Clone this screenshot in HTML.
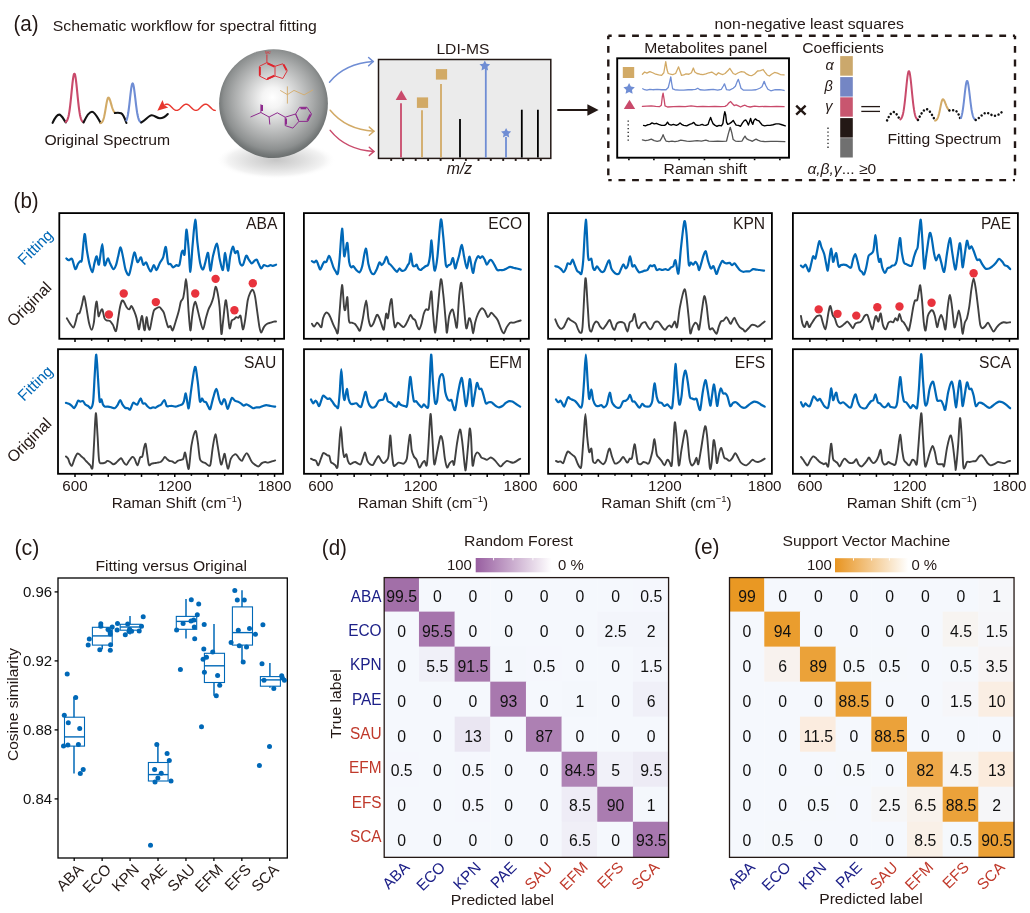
<!DOCTYPE html>
<html><head><meta charset="utf-8"><title>Spectral fitting figure</title>
<style>
html,body{margin:0;padding:0;background:#fff;}
body{width:1030px;height:913px;overflow:hidden;}
svg{display:block;}
svg text{font-family:'Liberation Sans', Arial, sans-serif;}
</style></head><body>
<svg width="1030" height="913" viewBox="0 0 1030 913">
<rect width="1030" height="913" fill="#fff"/>
<text x="13.5" y="30.5" font-size="22.95" fill="#231815" textLength="25.2" lengthAdjust="spacingAndGlyphs">(a)</text>
<text x="52.8" y="30.6" font-size="15.1" fill="#231815" textLength="264.1" lengthAdjust="spacingAndGlyphs">Schematic workflow for spectral fitting</text>
<path d="M52.6,122.9 C55,117.5 57,114.6 59.2,114.6 C61.6,114.6 63.6,119.5 65.8,122.5" fill="none" stroke="#111" stroke-width="2.1" stroke-linecap="round"/>
<path d="M65.8,121.9 L66.24,121.56 L66.69,121.08 L67.13,120.39 L67.57,119.45 L68.01,118.18 L68.45,116.52 L68.9,114.42 L69.34,111.83 L69.78,108.73 L70.22,105.15 L70.67,101.14 L71.11,96.81 L71.55,92.3 L72,87.83 L72.44,83.61 L72.88,79.88 L73.32,76.86 L73.77,74.76 L74.21,73.71 L74.65,73.78 L75.09,74.97 L75.53,77.21 L75.98,80.32 L76.42,84.13 L76.86,88.4 L77.3,92.89 L77.75,97.38 L78.19,101.68 L78.63,105.64 L79.08,109.16 L79.52,112.19 L79.96,114.72 L80.4,116.76 L80.84,118.36 L81.29,119.59 L81.73,120.5 L82.17,121.15 L82.62,121.62 L83.06,121.93 L83.5,122.14" fill="none" stroke="#c94a6b" stroke-width="2.1" stroke-linejoin="round" stroke-linecap="round"/>
<path d="M83.5,122.5 C86.5,116 89.5,111.7 92,111.7 C95,111.7 98,118.5 100.6,122.9" fill="none" stroke="#111" stroke-width="2.1" stroke-linecap="round"/>
<path d="M100.6,123.11 L100.96,122.97 L101.31,122.77 L101.67,122.49 L102.03,122.12 L102.39,121.62 L102.74,120.98 L103.1,120.16 L103.46,119.16 L103.82,117.94 L104.17,116.51 L104.53,114.87 L104.89,113.03 L105.25,111.03 L105.61,108.92 L105.96,106.77 L106.32,104.67 L106.68,102.68 L107.03,100.92 L107.39,99.47 L107.75,98.39 L108.11,97.76 L108.47,97.6 L108.82,97.79 L109.18,98.25 L109.54,98.94 L109.89,99.85 L110.25,100.91 L110.61,102.1 L110.97,103.35 L111.33,104.61 L111.68,105.85 L112.04,107.03 L112.4,108.12 L112.76,109.1 L113.11,109.96 L113.47,110.69 L113.83,111.3 L114.19,111.81 L114.54,112.21 L114.9,112.53" fill="none" stroke="#d2aa66" stroke-width="2.1" stroke-linejoin="round" stroke-linecap="round"/>
<path d="M114.9,113 C117,112.6 119.5,112.6 121.1,113.2 C123.6,114.4 125,119 126.4,123" fill="none" stroke="#111" stroke-width="2.1" stroke-linecap="round"/>
<path d="M126.4,120.53 L126.77,119.57 L127.14,118.35 L127.51,116.82 L127.88,114.97 L128.25,112.78 L128.62,110.25 L128.99,107.4 L129.36,104.3 L129.73,101.02 L130.1,97.66 L130.47,94.36 L130.84,91.26 L131.21,88.5 L131.58,86.23 L131.95,84.58 L132.32,83.62 L132.69,83.42 L133.06,83.94 L133.43,85.15 L133.8,86.96 L134.17,89.29 L134.54,92.04 L134.91,95.05 L135.28,98.22 L135.65,101.41 L136.02,104.51 L136.39,107.44 L136.76,110.12 L137.13,112.51 L137.5,114.59 L137.87,116.35 L138.24,117.81 L138.61,119 L138.98,119.94 L139.35,120.67 L139.72,121.23 L140.09,121.64 L140.46,121.94 L140.83,122.15 L141.2,122.31" fill="none" stroke="#6f8dd4" stroke-width="2.1" stroke-linejoin="round" stroke-linecap="round"/>
<path d="M141.2,122.5 C145,121 148.5,115.5 151.7,115.3 C154.5,115.2 157,118.3 159.9,118.3 C162.5,118.3 165.5,116.5 167.8,114" fill="none" stroke="#111" stroke-width="2.1" stroke-linecap="round"/>
<text x="44.4" y="144.8" font-size="14.99" fill="#231815" textLength="125.8" lengthAdjust="spacingAndGlyphs">Original Spectrum</text>
<path d="M215.2,110.4 L214.7,110.36 L214.2,110.24 L213.7,110.04 L213.2,109.77 L212.7,109.43 L212.2,109.04 L211.7,108.6 L211.2,108.12 L210.7,107.63 L210.2,107.12 L209.7,106.62 L209.2,106.14 L208.7,105.69 L208.2,105.28 L207.7,104.93 L207.2,104.64 L206.7,104.41 L206.2,104.27 L205.7,104.2 L205.2,104.22 L204.7,104.32 L204.2,104.49 L203.7,104.75 L203.2,105.06 L202.7,105.44 L202.2,105.87 L201.7,106.33 L201.2,106.82 L200.7,107.33 L200.2,107.83 L199.7,108.32 L199.2,108.78 L198.7,109.2 L198.2,109.57 L197.7,109.88 L197.2,110.13 L196.7,110.3 L196.2,110.39 L195.7,110.39 L195.2,110.32 L194.7,110.17 L194.2,109.94 L193.7,109.64 L193.2,109.28 L192.7,108.86 L192.2,108.41 L191.7,107.93 L191.2,107.43 L190.7,106.92 L190.2,106.43 L189.7,105.96 L189.2,105.52 L188.7,105.13 L188.2,104.8 L187.7,104.54 L187.2,104.35 L186.7,104.23 L186.2,104.2 L185.7,104.25 L185.2,104.38 L184.7,104.59 L184.2,104.87 L183.7,105.21 L183.2,105.61 L182.7,106.05 L182.2,106.53 L181.7,107.02 L181.2,107.53 L180.7,108.02 L180.2,108.5 L179.7,108.95 L179.2,109.35 L178.7,109.7 L178.2,109.99 L177.7,110.2 L177.2,110.34 L176.7,110.4 L176.2,110.37 L175.7,110.27 L175.2,110.08 L174.7,109.83 L174.2,109.5 L173.7,109.12 L173.2,108.69 L172.7,108.22 L172.2,107.73 L171.7,107.22 L171.2,106.72 L170.7,106.24 L170.2,105.78 L169.7,105.36 L169.2,105 L168.7,104.69 L168.2,104.45 L167.7,104.29 L167.2,104.21 L166.7,104.21 L166.2,104.29 L165.7,104.45 L165.2,104.69 L164.7,105" fill="none" stroke="#e8382f" stroke-width="1.45" stroke-linejoin="round" stroke-linecap="round"/>
<path d="M157.3,110.8 L162.5,100 L164.4,105.2 L168.2,107.6 Z" fill="#e8382f"/>
<defs>
<radialGradient id="sph" cx="0.5" cy="0.47" r="0.53" fx="0.49" fy="0.44">
<stop offset="0" stop-color="#ffffff"/>
<stop offset="0.18" stop-color="#f4f4f4"/>
<stop offset="0.45" stop-color="#cdcece"/>
<stop offset="0.7" stop-color="#a7a9a9"/>
<stop offset="0.86" stop-color="#8d9090"/>
<stop offset="0.95" stop-color="#747878"/>
<stop offset="1" stop-color="#6a6e6e"/>
</radialGradient>
<radialGradient id="shd" cx="0.5" cy="0.5" r="0.5">
<stop offset="0" stop-color="#c6c6c6"/>
<stop offset="0.45" stop-color="#dedede"/>
<stop offset="0.8" stop-color="#f3f3f3"/>
<stop offset="1" stop-color="#ffffff" stop-opacity="0"/>
</radialGradient>
</defs>
<ellipse cx="276" cy="160" rx="60" ry="19" fill="url(#shd)"/>
<circle cx="273.5" cy="103.6" r="54.4" fill="url(#sph)"/>
<g fill="none" stroke="#e0242c" stroke-width="0.9" stroke-linejoin="round">
<polygon points="266.9,62.6 275,66.3 275,76 266.9,79.7 259.4,76 259.4,66.3"/>
<polyline points="275,66.3 282.8,63.8 287.2,70.8 282.8,78.5 275,76"/>
<line x1="266.9" y1="62.6" x2="266.9" y2="54.5"/>
</g>
<g fill="none" stroke="#e0242c" stroke-width="1.9" stroke-linejoin="round">
<line x1="267.4" y1="63.4" x2="274.4" y2="66.6"/><line x1="259.9" y1="67" x2="259.9" y2="75.5"/><line x1="267.2" y1="78.9" x2="274.4" y2="75.6"/><line x1="283.5" y1="64.5" x2="286.6" y2="70.2"/>
</g>
<text x="265" y="53.5" font-size="2.8" fill="#e0242c">NH2</text>
<g fill="none" stroke="#d4aa6a" stroke-width="0.9" stroke-linejoin="round">
<polyline points="280.2,90.4 287.4,94.6 294,90.4 304.1,94.9 313,89.9"/>
<line x1="287.4" y1="86.4" x2="287.4" y2="103.6"/>
</g>
<g fill="none" stroke="#8e2b8e" stroke-width="1" stroke-linejoin="round">
<polyline points="250.5,117 260.9,112.5 269.1,117 277.3,112.8 285.2,117.2"/>
<line x1="260.9" y1="112.5" x2="260.9" y2="104.3"/><line x1="269.1" y1="117" x2="269.8" y2="124.5"/>
<polygon points="285.2,117.2 295.6,114 298.9,121.4 292.9,128.1 285.2,125.6"/>
<polygon points="295.6,114 299.6,107.3 307,107.3 311.5,114 307.8,121.4 298.9,121.4"/>
</g>
<g fill="none" stroke="#8e2b8e" stroke-width="2" stroke-linejoin="round">
<line x1="262" y1="105" x2="262" y2="111"/><line x1="300.5" y1="108.3" x2="306.3" y2="108.3"/><line x1="310.5" y1="114.5" x2="307.3" y2="120.6"/><line x1="286" y1="118.5" x2="286" y2="124.5"/>
</g>
<path d="M329.5,82.2 Q345,63.5 373.2,61.6" fill="none" stroke="#6f8dd4" stroke-width="1.5" stroke-linecap="round"/>
<path d="M368.6,57.5 L373.2,61.6 L368.6,65.7" fill="none" stroke="#6f8dd4" stroke-width="1.5" stroke-linecap="round" stroke-linejoin="miter"/>
<path d="M330.2,110.2 Q346,129.5 373.9,131.2" fill="none" stroke="#d2aa66" stroke-width="1.5" stroke-linecap="round"/>
<path d="M369.3,127.1 L373.9,131.2 L369.3,135.3" fill="none" stroke="#d2aa66" stroke-width="1.5" stroke-linecap="round" stroke-linejoin="miter"/>
<path d="M330.2,130.4 Q346,150 373.9,151.4" fill="none" stroke="#c94a6b" stroke-width="1.5" stroke-linecap="round"/>
<path d="M369.3,147.3 L373.9,151.4 L369.3,155.5" fill="none" stroke="#c94a6b" stroke-width="1.5" stroke-linecap="round" stroke-linejoin="miter"/>
<text x="436.4" y="54.4" font-size="13.97" fill="#231815" textLength="53" lengthAdjust="spacingAndGlyphs">LDI-MS</text>
<rect x="378.5" y="59.5" width="172.3" height="98.9" fill="#ebebeb" stroke="#231815" stroke-width="1.5"/>
<line x1="391.2" y1="158.5" x2="391.2" y2="160.9" stroke="#231815" stroke-width="1.9"/>
<line x1="403.2" y1="158.5" x2="403.2" y2="160.9" stroke="#231815" stroke-width="1.9"/>
<line x1="415.7" y1="158.5" x2="415.7" y2="160.9" stroke="#231815" stroke-width="1.9"/>
<line x1="428.1" y1="158.5" x2="428.1" y2="160.9" stroke="#231815" stroke-width="1.9"/>
<line x1="440.6" y1="158.5" x2="440.6" y2="160.9" stroke="#231815" stroke-width="1.9"/>
<line x1="453" y1="158.5" x2="453" y2="160.9" stroke="#231815" stroke-width="1.9"/>
<line x1="465.9" y1="158.5" x2="465.9" y2="160.9" stroke="#231815" stroke-width="1.9"/>
<line x1="478.5" y1="158.5" x2="478.5" y2="160.9" stroke="#231815" stroke-width="1.9"/>
<line x1="490.8" y1="158.5" x2="490.8" y2="160.9" stroke="#231815" stroke-width="1.9"/>
<line x1="503.2" y1="158.5" x2="503.2" y2="160.9" stroke="#231815" stroke-width="1.9"/>
<line x1="515.7" y1="158.5" x2="515.7" y2="160.9" stroke="#231815" stroke-width="1.9"/>
<line x1="528.3" y1="158.5" x2="528.3" y2="160.9" stroke="#231815" stroke-width="1.9"/>
<line x1="540.8" y1="158.5" x2="540.8" y2="160.9" stroke="#231815" stroke-width="1.9"/>
<line x1="401" y1="103.3" x2="401" y2="157.6" stroke="#c94a6b" stroke-width="1.8"/>
<polygon points="401.3,90.3 407,100 395.7,100" fill="#c94a6b"/>
<line x1="422" y1="110.3" x2="422" y2="157.6" stroke="#d2aa66" stroke-width="1.8"/>
<rect x="416.9" y="97.4" width="11.2" height="10.5" fill="#d2aa66"/>
<line x1="441" y1="83.9" x2="441" y2="157.6" stroke="#d2aa66" stroke-width="1.8"/>
<rect x="435.9" y="69.1" width="11.2" height="10.5" fill="#d2aa66"/>
<line x1="460" y1="118.9" x2="460" y2="157.6" stroke="#000" stroke-width="1.8"/>
<line x1="485.8" y1="68" x2="485.8" y2="157.6" stroke="#6f8dd4" stroke-width="1.8"/>
<polygon points="484.8,60.4 486.45,63.73 490.13,64.27 487.46,66.87 488.09,70.53 484.8,68.8 481.51,70.53 482.14,66.87 479.47,64.27 483.15,63.73" fill="#6f8dd4"/>
<line x1="506" y1="137" x2="506" y2="157.6" stroke="#6f8dd4" stroke-width="1.8"/>
<polygon points="506.1,127.9 507.66,131.06 511.14,131.56 508.62,134.02 509.22,137.49 506.1,135.85 502.98,137.49 503.58,134.02 501.06,131.56 504.54,131.06" fill="#6f8dd4"/>
<line x1="521.8" y1="109.7" x2="521.8" y2="157.6" stroke="#000" stroke-width="1.8"/>
<line x1="537.9" y1="109.7" x2="537.9" y2="157.6" stroke="#000" stroke-width="1.8"/>
<text x="446.8" y="173.8" font-size="15.8" font-style="italic" fill="#231815">m/z</text>
<line x1="557.3" y1="110" x2="589" y2="110" stroke="#231815" stroke-width="2"/>
<polygon points="598.6,110 587.4,104.2 587.4,115.8" fill="#231815"/>
<text x="714.6" y="29.4" font-size="14.48" fill="#231815" textLength="189.2" lengthAdjust="spacingAndGlyphs">non-negative least squares</text>
<line x1="608.3" y1="35.8" x2="1015" y2="35.8" stroke="#231815" stroke-width="2.4" stroke-dasharray="6.8 6.8" stroke-dashoffset="3.4"/>
<line x1="608.3" y1="35.8" x2="608.3" y2="180.1" stroke="#231815" stroke-width="2.4" stroke-dasharray="6.8 6.8" stroke-dashoffset="3.4"/>
<line x1="1015" y1="35.8" x2="1015" y2="180.1" stroke="#231815" stroke-width="2.4" stroke-dasharray="6.8 6.8" stroke-dashoffset="3.4"/>
<line x1="608.3" y1="180.1" x2="1015" y2="180.1" stroke="#231815" stroke-width="2.4" stroke-dasharray="6.8 6.8" stroke-dashoffset="3.4"/>
<text x="644.2" y="52.5" font-size="14.08" fill="#231815" textLength="123" lengthAdjust="spacingAndGlyphs">Metabolites panel</text>
<rect x="617.2" y="58.3" width="171.8" height="99.4" fill="none" stroke="#000" stroke-width="1.9"/>
<line x1="628.9" y1="158.6" x2="628.9" y2="160.2" stroke="#000" stroke-width="1.6"/>
<line x1="653.9" y1="158.6" x2="653.9" y2="160.2" stroke="#000" stroke-width="1.6"/>
<line x1="679.1" y1="158.6" x2="679.1" y2="160.2" stroke="#000" stroke-width="1.6"/>
<line x1="704.4" y1="158.6" x2="704.4" y2="160.2" stroke="#000" stroke-width="1.6"/>
<line x1="729.6" y1="158.6" x2="729.6" y2="160.2" stroke="#000" stroke-width="1.6"/>
<line x1="754.6" y1="158.6" x2="754.6" y2="160.2" stroke="#000" stroke-width="1.6"/>
<line x1="779.9" y1="158.6" x2="779.9" y2="160.2" stroke="#000" stroke-width="1.6"/>
<text x="663.6" y="173.8" font-size="14.48" fill="#231815" textLength="83.5" lengthAdjust="spacingAndGlyphs">Raman shift</text>
<rect x="622.8" y="67" width="11.4" height="11" fill="#d2aa66"/>
<polygon points="629.1,83 630.86,86.57 634.81,87.15 631.95,89.93 632.63,93.85 629.1,92 625.57,93.85 626.25,89.93 623.39,87.15 627.34,86.57" fill="#6f8dd4"/>
<polygon points="629.5,99.8 635.2,109 623.8,109" fill="#c94a6b"/>
<line x1="628.2" y1="120.4" x2="628.2" y2="141.5" stroke="#222" stroke-width="1.3" stroke-dasharray="1.3 2.5"/>
<path d="M642.43,74.23 L644.64,72.02 L646.85,73.05 L649.81,71.58 L652.76,72.76 L655.71,74.23 L658.66,74.97 L661.61,75.41 L663.83,72.76 L665.74,61.69 L667.07,69.81 L668.25,73.5 L670.47,74.23 L672.68,74.53 L675.63,73.5 L678.58,66.85 L680.06,71.28 L681.54,75.41 L683.75,74.97 L685.96,73.94 L688.91,74.23 L691.42,72.76 L693.34,68.04 L694.82,72.02 L697.03,73.5 L699.98,74.23 L702.94,74.53 L705.89,73.94 L708.84,72.76 L711.79,72.02 L714,73.5 L716.22,74.97 L718.43,72.76 L720.64,73.94 L722.86,74.53 L725.07,73.5 L728.02,70.54 L729.79,68.33 L731.27,70.54 L733.19,73.5 L735.4,74.53 L738.35,72.76 L741.31,71.58 L744.26,72.02 L746.47,73.94 L749.42,75.41 L751.64,75.71 L754.59,73.94 L757.54,70.99 L760.49,70.54 L763.15,69.51 L764.92,72.02 L767.13,74.97 L769.35,76 L771.56,74.23 L774.51,72.46 L777.46,73.05 L780.41,74.53 L784.1,74.97" fill="none" stroke="#d2aa66" stroke-width="1.3" stroke-linejoin="round" stroke-linecap="round"/>
<path d="M642.72,88.7 L644.64,89.73 L646.85,90.17 L649.81,89.29 L652.76,89.73 L657.19,89.43 L661.61,89.73 L666.04,89.73 L668.25,87.52 L669.73,81.61 L670.76,76.89 L671.65,83.09 L672.68,88.99 L674.89,89.73 L679.32,90.17 L683.75,90.17 L688.18,89.73 L692.6,89.73 L695.56,89.29 L697.77,88.25 L699.98,89.73 L704.41,90.17 L708.84,89.73 L713.27,89.29 L717.69,90.17 L721.38,89.29 L723.3,86.04 L724.48,83.83 L725.51,86.78 L726.55,89.73 L729.5,90.17 L733.19,88.25 L735.4,86.34 L737.17,81.61 L738.35,79.4 L739.53,83.09 L741.01,88.25 L743.52,90.17 L747.21,90.17 L751.64,90.17 L756.06,89.73 L759.75,88.25 L761.97,86.78 L764.18,81.32 L765.66,85.3 L767.87,89.29 L770.82,90.76 L775.25,89.73 L779.68,89.73 L784.1,90.47" fill="none" stroke="#6f8dd4" stroke-width="1.3" stroke-linejoin="round" stroke-linecap="round"/>
<path d="M642.43,106.41 L646.85,106.11 L651.28,105.96 L655.71,106.41 L659.4,106.7 L661.32,105.23 L662.35,96.37 L663.09,93.12 L664.12,99.32 L665.01,105.96 L667.52,107 L673.42,106.7 L679.32,106.41 L685.23,106.7 L691.13,105.96 L697.03,106.7 L702.94,106.41 L708.84,106.7 L714.74,106.41 L720.64,106.7 L725.07,106.41 L727.29,104.93 L728.76,103.01 L730.68,101.54 L732.45,103.75 L734.22,105.52 L736.14,104.93 L738.35,105.96 L740.57,107 L742.78,105.96 L745,105.23 L747.21,106.41 L750.16,107 L754.59,106.11 L759.02,106.7 L764.92,106.41 L770.82,106.7 L776.72,106.41 L784.1,106.7" fill="none" stroke="#c94a6b" stroke-width="1.3" stroke-linejoin="round" stroke-linecap="round"/>
<path d="M643.61,125.38 L645.38,125.83 L647.59,124.79 L649.81,124.35 L652.02,122.87 L654.23,123.91 L656.45,123.32 L658.66,124.35 L661.61,125.38 L664.56,125.38 L666.04,124.35 L667.52,122.14 L668.99,124.35 L671.21,125.09 L673.42,124.35 L676.37,125.38 L678.58,124.35 L680.06,122.87 L681.54,124.35 L683.75,125.38 L686.7,125.83 L689.65,124.35 L691.87,123.61 L693.79,122.43 L695.56,124.79 L697.77,125.38 L699.98,125.09 L702.2,124.35 L703.67,125.09 L705.89,125.38 L708.1,124.35 L709.28,120.66 L710.61,117.41 L711.79,120.66 L712.97,123.61 L714.74,125.09 L716.96,126.27 L719.17,125.38 L721.38,125.83 L722.86,123.61 L723.89,116.23 L724.78,111.81 L725.66,114.76 L726.55,122.14 L727.73,124.35 L729.5,123.61 L731.27,122.43 L733.19,120.37 L734.66,122.87 L736.14,125.09 L738.35,125.38 L740.57,126.27 L742.49,122.87 L744.26,120.66 L745.73,119.92 L747.21,122.14 L748.39,125.09 L749.42,122.14 L750.6,118.45 L751.64,122.14 L752.82,124.35 L753.85,120.66 L755.33,118.89 L757.24,120.37 L759.02,120.96 L760.79,123.32 L762.26,125.09 L764.62,125.83 L767.13,125.38 L770.08,125.38 L773.04,124.79 L775.99,123.91 L778.94,123.91 L781.89,124.79 L785.28,125.83" fill="none" stroke="#000" stroke-width="1.4" stroke-linejoin="round" stroke-linecap="round"/>
<path d="M642.43,139.85 L645.38,140.58 L648.33,140.14 L651.28,139.11 L654.23,140.58 L657.19,141.32 L660.14,140.58 L661.91,137.63 L663.09,134.68 L664.56,138.37 L666.04,141.03 L668.99,141.62 L671.94,141.03 L674.89,141.62 L677.85,141.03 L680.8,140.14 L683.75,140.58 L686.7,141.03 L689.65,141.32 L692.6,141.03 L697.03,140.58 L701.46,141.03 L705.89,140.14 L708.84,141.03 L713.27,141.32 L717.69,141.03 L722.12,141.32 L726.55,141.03 L728.32,133.94 L730.24,127.3 L731.71,132.47 L733.19,139.55 L735.4,141.03 L738.35,141.32 L742.04,141.03 L743.52,138.37 L745,136.16 L746.47,138.67 L748.68,139.85 L750.9,140.58 L752.37,141.32 L754.59,139.85 L756.06,139.11 L757.83,140.14 L760.49,141.03 L764.92,141.62 L770.82,141.32 L776.72,141.32 L784.84,141.62" fill="none" stroke="#555" stroke-width="1.3" stroke-linejoin="round" stroke-linecap="round"/>
<path d="M796.2,105.6 L805.6,114.6 M805.6,105.6 L796.2,114.6" stroke="#231815" stroke-width="2.4" stroke-linecap="butt"/>
<text x="802.3" y="52.5" font-size="14.08" fill="#231815" textLength="81.6" lengthAdjust="spacingAndGlyphs">Coefficients</text>
<rect x="840.2" y="56.1" width="12.6" height="19.6" fill="#cba86c"/>
<rect x="840.2" y="77.1" width="12.6" height="19.5" fill="#7486c4"/>
<rect x="840.2" y="97.3" width="12.6" height="19.4" fill="#c8566f"/>
<rect x="840.2" y="118.1" width="12.6" height="19.5" fill="#231815"/>
<rect x="840.2" y="138.1" width="12.6" height="19.4" fill="#707070"/>
<text x="825.4" y="70.3" font-size="14.5" font-style="italic" fill="#231815">&#945;</text>
<text x="824.6" y="90.5" font-size="14.5" font-style="italic" fill="#231815">&#946;</text>
<text x="825.2" y="111" font-size="14.5" font-style="italic" fill="#231815">&#947;</text>
<line x1="828" y1="127.6" x2="828" y2="148.5" stroke="#222" stroke-width="1.3" stroke-dasharray="1.3 2.5"/>
<text x="807.4" y="173.8" font-size="15" fill="#231815" textLength="68.8" lengthAdjust="spacingAndGlyphs"><tspan font-style="italic">&#945;,&#946;,&#947;</tspan>... &#8805;0</text>
<line x1="861.3" y1="106.6" x2="880" y2="106.6" stroke="#231815" stroke-width="1.3"/>
<line x1="861.3" y1="111.4" x2="880" y2="111.4" stroke="#231815" stroke-width="1.3"/>
<g transform="translate(834.5,-2.5)">
<path d="M52.6,122.9 C55,117.5 57,114.6 59.2,114.6 C61.6,114.6 63.6,119.5 65.8,122.5" fill="none" stroke="#111" stroke-width="2.5" stroke-linecap="round" stroke-dasharray="0.01 3.7"/>
<path d="M65.8,121.9 L66.24,121.56 L66.69,121.08 L67.13,120.39 L67.57,119.45 L68.01,118.18 L68.45,116.52 L68.9,114.42 L69.34,111.83 L69.78,108.73 L70.22,105.15 L70.67,101.14 L71.11,96.81 L71.55,92.3 L72,87.83 L72.44,83.61 L72.88,79.88 L73.32,76.86 L73.77,74.76 L74.21,73.71 L74.65,73.78 L75.09,74.97 L75.53,77.21 L75.98,80.32 L76.42,84.13 L76.86,88.4 L77.3,92.89 L77.75,97.38 L78.19,101.68 L78.63,105.64 L79.08,109.16 L79.52,112.19 L79.96,114.72 L80.4,116.76 L80.84,118.36 L81.29,119.59 L81.73,120.5 L82.17,121.15 L82.62,121.62 L83.06,121.93 L83.5,122.14" fill="none" stroke="#c94a6b" stroke-width="2" stroke-linejoin="round" stroke-linecap="round"/>
<path d="M83.5,122.5 C86.5,116 89.5,111.7 92,111.7 C95,111.7 98,118.5 100.6,122.9" fill="none" stroke="#111" stroke-width="2.5" stroke-linecap="round" stroke-dasharray="0.01 3.7"/>
<path d="M100.6,123.16 L100.96,123.04 L101.31,122.87 L101.67,122.64 L102.03,122.33 L102.39,121.91 L102.74,121.37 L103.1,120.69 L103.46,119.85 L103.82,118.83 L104.17,117.63 L104.53,116.26 L104.89,114.72 L105.25,113.04 L105.61,111.28 L105.96,109.48 L106.32,107.72 L106.68,106.06 L107.03,104.58 L107.39,103.36 L107.75,102.46 L108.11,101.94 L108.47,101.8 L108.82,101.94 L109.18,102.27 L109.54,102.79 L109.89,103.45 L110.25,104.23 L110.61,105.1 L110.97,106.02 L111.33,106.95 L111.68,107.86 L112.04,108.72 L112.4,109.52 L112.76,110.24 L113.11,110.87 L113.47,111.41 L113.83,111.86 L114.19,112.23 L114.54,112.53 L114.9,112.76" fill="none" stroke="#d2aa66" stroke-width="2" stroke-linejoin="round" stroke-linecap="round"/>
<path d="M114.9,113 C117,112.6 119.5,112.6 121.1,113.2 C123.6,114.4 125,119 126.4,123" fill="none" stroke="#111" stroke-width="2.5" stroke-linecap="round" stroke-dasharray="0.01 3.7"/>
<path d="M126.4,120.53 L126.77,119.57 L127.14,118.35 L127.51,116.82 L127.88,114.97 L128.25,112.78 L128.62,110.25 L128.99,107.4 L129.36,104.3 L129.73,101.02 L130.1,97.66 L130.47,94.36 L130.84,91.26 L131.21,88.5 L131.58,86.23 L131.95,84.58 L132.32,83.62 L132.69,83.42 L133.06,83.94 L133.43,85.15 L133.8,86.96 L134.17,89.29 L134.54,92.04 L134.91,95.05 L135.28,98.22 L135.65,101.41 L136.02,104.51 L136.39,107.44 L136.76,110.12 L137.13,112.51 L137.5,114.59 L137.87,116.35 L138.24,117.81 L138.61,119 L138.98,119.94 L139.35,120.67 L139.72,121.23 L140.09,121.64 L140.46,121.94 L140.83,122.15 L141.2,122.31" fill="none" stroke="#6f8dd4" stroke-width="2" stroke-linejoin="round" stroke-linecap="round"/>
<path d="M141.2,122.5 C145,121 148.5,115.5 151.7,115.3 C154.5,115.2 157,118.3 159.9,118.3 C162.5,118.3 165.5,116.5 167.8,114" fill="none" stroke="#111" stroke-width="2.5" stroke-linecap="round" stroke-dasharray="0.01 3.7"/>
</g>
<text x="887.5" y="144" font-size="14.48" fill="#231815" textLength="113.9" lengthAdjust="spacingAndGlyphs">Fitting Spectrum</text>
<text x="13.6" y="207.8" font-size="22.95" fill="#231815" textLength="25.1" lengthAdjust="spacingAndGlyphs">(b)</text>
<rect x="59.3" y="213.1" width="224.8" height="125.7" fill="none" stroke="#000" stroke-width="1.8"/>
<line x1="75" y1="338.8" x2="75" y2="341.9" stroke="#000" stroke-width="1.5"/>
<line x1="91.63" y1="338.8" x2="91.63" y2="340.8" stroke="#000" stroke-width="1.5"/>
<line x1="108.26" y1="338.8" x2="108.26" y2="341.9" stroke="#000" stroke-width="1.5"/>
<line x1="124.89" y1="338.8" x2="124.89" y2="340.8" stroke="#000" stroke-width="1.5"/>
<line x1="141.52" y1="338.8" x2="141.52" y2="341.9" stroke="#000" stroke-width="1.5"/>
<line x1="158.15" y1="338.8" x2="158.15" y2="340.8" stroke="#000" stroke-width="1.5"/>
<line x1="174.78" y1="338.8" x2="174.78" y2="341.9" stroke="#000" stroke-width="1.5"/>
<line x1="191.41" y1="338.8" x2="191.41" y2="340.8" stroke="#000" stroke-width="1.5"/>
<line x1="208.04" y1="338.8" x2="208.04" y2="341.9" stroke="#000" stroke-width="1.5"/>
<line x1="224.67" y1="338.8" x2="224.67" y2="340.8" stroke="#000" stroke-width="1.5"/>
<line x1="241.3" y1="338.8" x2="241.3" y2="341.9" stroke="#000" stroke-width="1.5"/>
<line x1="257.93" y1="338.8" x2="257.93" y2="340.8" stroke="#000" stroke-width="1.5"/>
<line x1="274.56" y1="338.8" x2="274.56" y2="341.9" stroke="#000" stroke-width="1.5"/>
<text x="277.3" y="228.8" font-size="15.91" fill="#231815" text-anchor="end" textLength="31.22" lengthAdjust="spacingAndGlyphs">ABA</text>
<rect x="58" y="349.2" width="225" height="124.6" fill="none" stroke="#000" stroke-width="1.8"/>
<line x1="75" y1="473.8" x2="75" y2="476.9" stroke="#000" stroke-width="1.5"/>
<line x1="91.63" y1="473.8" x2="91.63" y2="475.8" stroke="#000" stroke-width="1.5"/>
<line x1="108.26" y1="473.8" x2="108.26" y2="476.9" stroke="#000" stroke-width="1.5"/>
<line x1="124.89" y1="473.8" x2="124.89" y2="475.8" stroke="#000" stroke-width="1.5"/>
<line x1="141.52" y1="473.8" x2="141.52" y2="476.9" stroke="#000" stroke-width="1.5"/>
<line x1="158.15" y1="473.8" x2="158.15" y2="475.8" stroke="#000" stroke-width="1.5"/>
<line x1="174.78" y1="473.8" x2="174.78" y2="476.9" stroke="#000" stroke-width="1.5"/>
<line x1="191.41" y1="473.8" x2="191.41" y2="475.8" stroke="#000" stroke-width="1.5"/>
<line x1="208.04" y1="473.8" x2="208.04" y2="476.9" stroke="#000" stroke-width="1.5"/>
<line x1="224.67" y1="473.8" x2="224.67" y2="475.8" stroke="#000" stroke-width="1.5"/>
<line x1="241.3" y1="473.8" x2="241.3" y2="476.9" stroke="#000" stroke-width="1.5"/>
<line x1="257.93" y1="473.8" x2="257.93" y2="475.8" stroke="#000" stroke-width="1.5"/>
<line x1="274.56" y1="473.8" x2="274.56" y2="476.9" stroke="#000" stroke-width="1.5"/>
<text x="276.2" y="367.7" font-size="15.91" fill="#231815" text-anchor="end" textLength="32.08" lengthAdjust="spacingAndGlyphs">SAU</text>
<text x="75" y="490.8" font-size="15.5" fill="#231815" text-anchor="middle" textLength="25.36" lengthAdjust="spacingAndGlyphs">600</text>
<text x="174.78" y="490.8" font-size="15.5" fill="#231815" text-anchor="middle" textLength="33.81" lengthAdjust="spacingAndGlyphs">1200</text>
<text x="274.56" y="490.8" font-size="15.5" fill="#231815" text-anchor="middle" textLength="33.81" lengthAdjust="spacingAndGlyphs">1800</text>
<text x="111.8" y="507.5" font-size="15.4" fill="#231815" textLength="130.4" lengthAdjust="spacingAndGlyphs">Raman Shift (cm<tspan font-size="9.5" dy="-5.6">&#8722;1</tspan><tspan dy="5.6">)</tspan></text>
<rect x="303.9" y="213.1" width="225" height="125.7" fill="none" stroke="#000" stroke-width="1.8"/>
<line x1="320.9" y1="338.8" x2="320.9" y2="341.9" stroke="#000" stroke-width="1.5"/>
<line x1="337.53" y1="338.8" x2="337.53" y2="340.8" stroke="#000" stroke-width="1.5"/>
<line x1="354.16" y1="338.8" x2="354.16" y2="341.9" stroke="#000" stroke-width="1.5"/>
<line x1="370.79" y1="338.8" x2="370.79" y2="340.8" stroke="#000" stroke-width="1.5"/>
<line x1="387.42" y1="338.8" x2="387.42" y2="341.9" stroke="#000" stroke-width="1.5"/>
<line x1="404.05" y1="338.8" x2="404.05" y2="340.8" stroke="#000" stroke-width="1.5"/>
<line x1="420.68" y1="338.8" x2="420.68" y2="341.9" stroke="#000" stroke-width="1.5"/>
<line x1="437.31" y1="338.8" x2="437.31" y2="340.8" stroke="#000" stroke-width="1.5"/>
<line x1="453.94" y1="338.8" x2="453.94" y2="341.9" stroke="#000" stroke-width="1.5"/>
<line x1="470.57" y1="338.8" x2="470.57" y2="340.8" stroke="#000" stroke-width="1.5"/>
<line x1="487.2" y1="338.8" x2="487.2" y2="341.9" stroke="#000" stroke-width="1.5"/>
<line x1="503.83" y1="338.8" x2="503.83" y2="340.8" stroke="#000" stroke-width="1.5"/>
<line x1="520.46" y1="338.8" x2="520.46" y2="341.9" stroke="#000" stroke-width="1.5"/>
<text x="522.1" y="228.8" font-size="15.91" fill="#231815" text-anchor="end" textLength="33.81" lengthAdjust="spacingAndGlyphs">ECO</text>
<rect x="304" y="349.2" width="224.9" height="124.6" fill="none" stroke="#000" stroke-width="1.8"/>
<line x1="320.9" y1="473.8" x2="320.9" y2="476.9" stroke="#000" stroke-width="1.5"/>
<line x1="337.53" y1="473.8" x2="337.53" y2="475.8" stroke="#000" stroke-width="1.5"/>
<line x1="354.16" y1="473.8" x2="354.16" y2="476.9" stroke="#000" stroke-width="1.5"/>
<line x1="370.79" y1="473.8" x2="370.79" y2="475.8" stroke="#000" stroke-width="1.5"/>
<line x1="387.42" y1="473.8" x2="387.42" y2="476.9" stroke="#000" stroke-width="1.5"/>
<line x1="404.05" y1="473.8" x2="404.05" y2="475.8" stroke="#000" stroke-width="1.5"/>
<line x1="420.68" y1="473.8" x2="420.68" y2="476.9" stroke="#000" stroke-width="1.5"/>
<line x1="437.31" y1="473.8" x2="437.31" y2="475.8" stroke="#000" stroke-width="1.5"/>
<line x1="453.94" y1="473.8" x2="453.94" y2="476.9" stroke="#000" stroke-width="1.5"/>
<line x1="470.57" y1="473.8" x2="470.57" y2="475.8" stroke="#000" stroke-width="1.5"/>
<line x1="487.2" y1="473.8" x2="487.2" y2="476.9" stroke="#000" stroke-width="1.5"/>
<line x1="503.83" y1="473.8" x2="503.83" y2="475.8" stroke="#000" stroke-width="1.5"/>
<line x1="520.46" y1="473.8" x2="520.46" y2="476.9" stroke="#000" stroke-width="1.5"/>
<text x="522.1" y="367.7" font-size="15.91" fill="#231815" text-anchor="end" textLength="32.93" lengthAdjust="spacingAndGlyphs">EFM</text>
<text x="320.9" y="490.8" font-size="15.5" fill="#231815" text-anchor="middle" textLength="25.36" lengthAdjust="spacingAndGlyphs">600</text>
<text x="420.68" y="490.8" font-size="15.5" fill="#231815" text-anchor="middle" textLength="33.81" lengthAdjust="spacingAndGlyphs">1200</text>
<text x="520.46" y="490.8" font-size="15.5" fill="#231815" text-anchor="middle" textLength="33.81" lengthAdjust="spacingAndGlyphs">1800</text>
<text x="357.75" y="507.5" font-size="15.4" fill="#231815" textLength="130.4" lengthAdjust="spacingAndGlyphs">Raman Shift (cm<tspan font-size="9.5" dy="-5.6">&#8722;1</tspan><tspan dy="5.6">)</tspan></text>
<rect x="548.1" y="213.1" width="223.8" height="125.7" fill="none" stroke="#000" stroke-width="1.8"/>
<line x1="565.1" y1="338.8" x2="565.1" y2="341.9" stroke="#000" stroke-width="1.5"/>
<line x1="581.73" y1="338.8" x2="581.73" y2="340.8" stroke="#000" stroke-width="1.5"/>
<line x1="598.36" y1="338.8" x2="598.36" y2="341.9" stroke="#000" stroke-width="1.5"/>
<line x1="614.99" y1="338.8" x2="614.99" y2="340.8" stroke="#000" stroke-width="1.5"/>
<line x1="631.62" y1="338.8" x2="631.62" y2="341.9" stroke="#000" stroke-width="1.5"/>
<line x1="648.25" y1="338.8" x2="648.25" y2="340.8" stroke="#000" stroke-width="1.5"/>
<line x1="664.88" y1="338.8" x2="664.88" y2="341.9" stroke="#000" stroke-width="1.5"/>
<line x1="681.51" y1="338.8" x2="681.51" y2="340.8" stroke="#000" stroke-width="1.5"/>
<line x1="698.14" y1="338.8" x2="698.14" y2="341.9" stroke="#000" stroke-width="1.5"/>
<line x1="714.77" y1="338.8" x2="714.77" y2="340.8" stroke="#000" stroke-width="1.5"/>
<line x1="731.4" y1="338.8" x2="731.4" y2="341.9" stroke="#000" stroke-width="1.5"/>
<line x1="748.03" y1="338.8" x2="748.03" y2="340.8" stroke="#000" stroke-width="1.5"/>
<line x1="764.66" y1="338.8" x2="764.66" y2="341.9" stroke="#000" stroke-width="1.5"/>
<text x="765.1" y="228.8" font-size="15.91" fill="#231815" text-anchor="end" textLength="32.08" lengthAdjust="spacingAndGlyphs">KPN</text>
<rect x="548.1" y="349.2" width="223.8" height="124.6" fill="none" stroke="#000" stroke-width="1.8"/>
<line x1="565.1" y1="473.8" x2="565.1" y2="476.9" stroke="#000" stroke-width="1.5"/>
<line x1="581.73" y1="473.8" x2="581.73" y2="475.8" stroke="#000" stroke-width="1.5"/>
<line x1="598.36" y1="473.8" x2="598.36" y2="476.9" stroke="#000" stroke-width="1.5"/>
<line x1="614.99" y1="473.8" x2="614.99" y2="475.8" stroke="#000" stroke-width="1.5"/>
<line x1="631.62" y1="473.8" x2="631.62" y2="476.9" stroke="#000" stroke-width="1.5"/>
<line x1="648.25" y1="473.8" x2="648.25" y2="475.8" stroke="#000" stroke-width="1.5"/>
<line x1="664.88" y1="473.8" x2="664.88" y2="476.9" stroke="#000" stroke-width="1.5"/>
<line x1="681.51" y1="473.8" x2="681.51" y2="475.8" stroke="#000" stroke-width="1.5"/>
<line x1="698.14" y1="473.8" x2="698.14" y2="476.9" stroke="#000" stroke-width="1.5"/>
<line x1="714.77" y1="473.8" x2="714.77" y2="475.8" stroke="#000" stroke-width="1.5"/>
<line x1="731.4" y1="473.8" x2="731.4" y2="476.9" stroke="#000" stroke-width="1.5"/>
<line x1="748.03" y1="473.8" x2="748.03" y2="475.8" stroke="#000" stroke-width="1.5"/>
<line x1="764.66" y1="473.8" x2="764.66" y2="476.9" stroke="#000" stroke-width="1.5"/>
<text x="765.1" y="367.7" font-size="15.91" fill="#231815" text-anchor="end" textLength="30.34" lengthAdjust="spacingAndGlyphs">EFS</text>
<text x="565.1" y="490.8" font-size="15.5" fill="#231815" text-anchor="middle" textLength="25.36" lengthAdjust="spacingAndGlyphs">600</text>
<text x="664.88" y="490.8" font-size="15.5" fill="#231815" text-anchor="middle" textLength="33.81" lengthAdjust="spacingAndGlyphs">1200</text>
<text x="764.66" y="490.8" font-size="15.5" fill="#231815" text-anchor="middle" textLength="33.81" lengthAdjust="spacingAndGlyphs">1800</text>
<text x="601.3" y="507.5" font-size="15.4" fill="#231815" textLength="130.4" lengthAdjust="spacingAndGlyphs">Raman Shift (cm<tspan font-size="9.5" dy="-5.6">&#8722;1</tspan><tspan dy="5.6">)</tspan></text>
<rect x="792.9" y="213.1" width="225" height="125.7" fill="none" stroke="#000" stroke-width="1.8"/>
<line x1="809.9" y1="338.8" x2="809.9" y2="341.9" stroke="#000" stroke-width="1.5"/>
<line x1="826.53" y1="338.8" x2="826.53" y2="340.8" stroke="#000" stroke-width="1.5"/>
<line x1="843.16" y1="338.8" x2="843.16" y2="341.9" stroke="#000" stroke-width="1.5"/>
<line x1="859.79" y1="338.8" x2="859.79" y2="340.8" stroke="#000" stroke-width="1.5"/>
<line x1="876.42" y1="338.8" x2="876.42" y2="341.9" stroke="#000" stroke-width="1.5"/>
<line x1="893.05" y1="338.8" x2="893.05" y2="340.8" stroke="#000" stroke-width="1.5"/>
<line x1="909.68" y1="338.8" x2="909.68" y2="341.9" stroke="#000" stroke-width="1.5"/>
<line x1="926.31" y1="338.8" x2="926.31" y2="340.8" stroke="#000" stroke-width="1.5"/>
<line x1="942.94" y1="338.8" x2="942.94" y2="341.9" stroke="#000" stroke-width="1.5"/>
<line x1="959.57" y1="338.8" x2="959.57" y2="340.8" stroke="#000" stroke-width="1.5"/>
<line x1="976.2" y1="338.8" x2="976.2" y2="341.9" stroke="#000" stroke-width="1.5"/>
<line x1="992.83" y1="338.8" x2="992.83" y2="340.8" stroke="#000" stroke-width="1.5"/>
<line x1="1009.46" y1="338.8" x2="1009.46" y2="341.9" stroke="#000" stroke-width="1.5"/>
<text x="1011.1" y="228.8" font-size="15.91" fill="#231815" text-anchor="end" textLength="30.06" lengthAdjust="spacingAndGlyphs">PAE</text>
<rect x="792.9" y="349.2" width="225" height="124.6" fill="none" stroke="#000" stroke-width="1.8"/>
<line x1="809.9" y1="473.8" x2="809.9" y2="476.9" stroke="#000" stroke-width="1.5"/>
<line x1="826.53" y1="473.8" x2="826.53" y2="475.8" stroke="#000" stroke-width="1.5"/>
<line x1="843.16" y1="473.8" x2="843.16" y2="476.9" stroke="#000" stroke-width="1.5"/>
<line x1="859.79" y1="473.8" x2="859.79" y2="475.8" stroke="#000" stroke-width="1.5"/>
<line x1="876.42" y1="473.8" x2="876.42" y2="476.9" stroke="#000" stroke-width="1.5"/>
<line x1="893.05" y1="473.8" x2="893.05" y2="475.8" stroke="#000" stroke-width="1.5"/>
<line x1="909.68" y1="473.8" x2="909.68" y2="476.9" stroke="#000" stroke-width="1.5"/>
<line x1="926.31" y1="473.8" x2="926.31" y2="475.8" stroke="#000" stroke-width="1.5"/>
<line x1="942.94" y1="473.8" x2="942.94" y2="476.9" stroke="#000" stroke-width="1.5"/>
<line x1="959.57" y1="473.8" x2="959.57" y2="475.8" stroke="#000" stroke-width="1.5"/>
<line x1="976.2" y1="473.8" x2="976.2" y2="476.9" stroke="#000" stroke-width="1.5"/>
<line x1="992.83" y1="473.8" x2="992.83" y2="475.8" stroke="#000" stroke-width="1.5"/>
<line x1="1009.46" y1="473.8" x2="1009.46" y2="476.9" stroke="#000" stroke-width="1.5"/>
<text x="1011.1" y="367.7" font-size="15.91" fill="#231815" text-anchor="end" textLength="32.08" lengthAdjust="spacingAndGlyphs">SCA</text>
<text x="809.9" y="490.8" font-size="15.5" fill="#231815" text-anchor="middle" textLength="25.36" lengthAdjust="spacingAndGlyphs">600</text>
<text x="909.68" y="490.8" font-size="15.5" fill="#231815" text-anchor="middle" textLength="33.81" lengthAdjust="spacingAndGlyphs">1200</text>
<text x="1009.46" y="490.8" font-size="15.5" fill="#231815" text-anchor="middle" textLength="33.81" lengthAdjust="spacingAndGlyphs">1800</text>
<text x="846.7" y="507.5" font-size="15.4" fill="#231815" textLength="130.4" lengthAdjust="spacingAndGlyphs">Raman Shift (cm<tspan font-size="9.5" dy="-5.6">&#8722;1</tspan><tspan dy="5.6">)</tspan></text>
<text transform="translate(24,266) rotate(-45)" font-size="15.5" fill="#0068b7">Fitting</text>
<text transform="translate(13.5,327.5) rotate(-45)" font-size="16" fill="#231815">Original</text>
<text transform="translate(24,402) rotate(-45)" font-size="15.5" fill="#0068b7">Fitting</text>
<text transform="translate(13.5,463.5) rotate(-45)" font-size="16" fill="#231815">Original</text>
<path d="M66.85,318.25 C67.35,319.08 69.18,322.39 70.17,323.79 C71.17,325.18 72.67,327.88 73.5,327.55 C74.33,327.22 75.11,323.57 75.71,321.57 C76.31,319.58 76.88,315.6 77.48,314.27 C78.08,312.94 79.03,314.11 79.69,312.72 C80.36,311.32 81.24,307.46 81.91,304.97 C82.57,302.48 83.46,295.79 84.12,296.12 C84.78,296.45 85.6,303.2 86.33,307.19 C87.06,311.17 88.19,319.29 88.99,322.68 C89.79,326.07 90.92,329.76 91.65,329.76 C92.38,329.76 93.33,325.74 93.86,322.68 C94.39,319.63 94.76,312.55 95.19,309.4 C95.62,306.24 96.24,300.66 96.74,301.65 C97.24,302.65 98.01,314.38 98.51,316.04 C99.01,317.7 99.49,313.72 100.06,312.72 C100.62,311.72 101.61,308.57 102.27,309.4 C102.94,310.23 103.82,316.59 104.49,318.25 C105.15,319.91 105.87,320.07 106.7,320.47 C107.53,320.87 109.09,320.25 110.02,320.91 C110.95,321.57 112,323.37 112.9,324.89 C113.79,326.42 115.2,332.09 116,331.09 C116.79,330.1 117.61,321.84 118.21,318.25 C118.81,314.67 119.38,309.84 119.98,307.19 C120.58,304.53 121.53,301.21 122.19,300.54 C122.86,299.88 123.74,301.76 124.41,302.76 C125.07,303.75 125.89,306.19 126.62,307.19 C127.35,308.18 128.55,309.57 129.28,309.4 C130.01,309.23 130.73,305.75 131.49,306.08 C132.26,306.41 133.61,309.79 134.37,311.61 C135.13,313.44 135.92,315.6 136.58,318.25 C137.25,320.91 138.23,328.66 138.8,329.32 C139.36,329.99 139.85,324.67 140.35,322.68 C140.84,320.69 141.59,315.21 142.12,316.04 C142.65,316.87 143.46,326.22 143.89,328.21 C144.32,330.21 144.6,330.98 145,329.32 C145.39,327.66 146.05,317.48 146.54,317.15 C147.04,316.81 147.82,325.28 148.32,327.11 C148.81,328.93 149.3,330.65 149.86,329.32 C150.43,327.99 151.48,321.08 152.08,318.25 C152.68,315.43 153.19,312 153.85,310.51 C154.51,309.01 155.68,308.79 156.51,308.29 C157.34,307.79 158.62,307.02 159.38,307.19 C160.15,307.35 160.93,308.57 161.6,309.4 C162.26,310.23 163.15,311.06 163.81,312.72 C164.47,314.38 165.36,318.31 166.02,320.47 C166.69,322.63 167.57,326.28 168.24,327.11 C168.9,327.94 169.79,325.5 170.45,326 C171.12,326.5 171.93,330.93 172.67,330.43 C173.4,329.93 174.43,325.5 175.32,322.68 C176.22,319.86 177.81,314.77 178.64,311.61 C179.47,308.46 180.19,303.64 180.86,301.65 C181.52,299.66 182.5,300.16 183.07,298.33 C183.63,296.5 184.19,292.37 184.62,289.48 C185.05,286.59 185.55,279.07 185.95,279.07 C186.35,279.07 186.88,284.6 187.28,289.48 C187.67,294.36 188.14,305.47 188.6,311.61 C189.07,317.76 189.88,329.43 190.37,330.43 C190.87,331.42 191.46,321.74 191.92,318.25 C192.39,314.77 192.98,309.68 193.47,307.19 C193.97,304.7 194.71,301.65 195.24,301.65 C195.78,301.65 196.35,304.7 197.01,307.19 C197.68,309.68 198.77,314.93 199.67,318.25 C200.57,321.57 202.06,329.32 202.99,329.32 C203.92,329.32 205.04,321.24 205.87,318.25 C206.7,315.27 207.73,311.56 208.53,309.4 C209.32,307.24 210.45,305.69 211.18,303.86 C211.91,302.04 212.73,299.78 213.4,297.22 C214.06,294.67 214.95,287.32 215.61,286.82 C216.27,286.32 217.23,290.85 217.82,293.9 C218.42,296.96 219.06,301.21 219.59,307.19 C220.13,313.16 220.87,331.42 221.36,333.75 C221.86,336.07 222.28,327.66 222.91,322.68 C223.55,317.7 224.91,302.54 225.57,300.54 C226.23,298.55 226.74,305.25 227.34,309.4 C227.94,313.55 228.89,326.55 229.56,328.21 C230.22,329.87 231.1,321.8 231.77,320.47 C232.43,319.14 233.32,319.86 233.98,319.36 C234.65,318.86 235.53,317.38 236.2,317.15 C236.86,316.91 237.75,317.98 238.41,317.81 C239.07,317.64 239.96,314.31 240.62,316.04 C241.29,317.77 242.17,328.66 242.84,329.32 C243.5,329.99 244.32,324.78 245.05,320.47 C245.78,316.15 246.94,304.7 247.71,300.54 C248.47,296.39 249.38,294.39 250.14,292.8 C250.91,291.2 252.07,289.42 252.8,289.92 C253.53,290.42 254.35,292.86 255.01,296.12 C255.68,299.37 256.56,306.96 257.23,311.61 C257.89,316.26 258.84,323.95 259.44,327.11 C260.04,330.26 260.55,332.64 261.21,332.64 C261.87,332.64 262.97,328.44 263.87,327.11 C264.76,325.78 266.19,324.45 267.19,323.79 C268.18,323.12 269.51,323.01 270.51,322.68 C271.5,322.35 273,321.74 273.83,321.57 C274.66,321.41 275.71,321.57 276.04,321.57" fill="none" stroke="#404040" stroke-width="1.9" stroke-linejoin="round" stroke-linecap="round"/>
<path d="M66.41,258.49 C66.74,258.75 67.96,260.19 68.63,260.26 C69.29,260.32 70.27,259.03 70.84,258.93 C71.4,258.83 71.72,258.07 72.39,259.59 C73.05,261.12 74.44,268.45 75.27,269.11 C76.1,269.78 77.19,265.22 77.92,264.02 C78.65,262.82 79.54,261.81 80.14,261.14 C80.73,260.48 81.24,263.64 81.91,259.59 C82.57,255.54 83.83,235.63 84.56,234.14 C85.29,232.64 86.05,245.15 86.78,249.63 C87.51,254.11 88.6,260.63 89.43,264.02 C90.26,267.41 91.55,272.38 92.31,272.21 C93.07,272.04 93.86,265.3 94.52,262.91 C95.19,260.52 96.07,256.04 96.74,256.27 C97.4,256.5 98.12,266.29 98.95,264.46 C99.78,262.64 101.44,244 102.27,244.1 C103.1,244.2 103.66,262.97 104.49,265.13 C105.32,267.29 106.98,258.75 107.81,258.49 C108.64,258.22 109.19,261.76 110.02,263.36 C110.85,264.95 112.44,268.85 113.34,269.11 C114.24,269.38 115.27,267.05 116,265.13 C116.73,263.2 117.51,258.93 118.21,256.27 C118.91,253.62 119.88,247.09 120.65,247.42 C121.41,247.75 122.57,255.17 123.3,258.49 C124.03,261.81 124.69,267.06 125.52,269.55 C126.35,272.04 127.94,275.75 128.84,275.09 C129.73,274.42 130.66,268.51 131.49,265.13 C132.32,261.74 133.51,253.01 134.37,252.51 C135.23,252.01 136.58,260.58 137.25,261.81 C137.91,263.03 138.23,261.36 138.8,260.7 C139.36,260.04 140.35,256.78 141.01,257.38 C141.67,257.98 142.46,263.92 143.22,264.68 C143.99,265.45 145.27,261.91 146.1,262.47 C146.93,263.03 148.03,267.12 148.76,268.45 C149.49,269.78 150.21,271.82 150.97,271.32 C151.74,270.83 153.02,265.33 153.85,265.13 C154.68,264.93 155.61,270.33 156.51,270 C157.4,269.66 158.83,264.81 159.83,262.91 C160.82,261.02 162.25,259.77 163.15,257.38 C164.04,254.99 165.07,246.14 165.8,246.98 C166.53,247.81 167.32,260.36 168.02,262.91 C168.71,265.47 169.69,263.36 170.45,264.02 C171.22,264.68 172.21,267.17 173.11,267.34 C174,267.51 175.5,265.46 176.43,265.13 C177.36,264.79 178.54,266.95 179.31,265.13 C180.07,263.3 180.96,255.11 181.52,252.95 C182.08,250.79 182.6,250.57 183.07,250.74 C183.53,250.9 184.12,257.21 184.62,254.06 C185.12,250.9 185.79,230.54 186.39,229.71 C186.99,228.88 188.01,242.22 188.6,248.52 C189.2,254.83 189.78,272.27 190.37,271.77 C190.97,271.27 191.86,253.01 192.59,245.2 C193.32,237.4 194.51,220.08 195.24,219.75 C195.97,219.42 196.73,236.52 197.46,242.99 C198.19,249.47 199.28,258.93 200.11,262.91 C200.94,266.9 202.23,269.55 202.99,269.55 C203.76,269.55 204.44,265.4 205.21,262.91 C205.97,260.42 207.32,251.79 208.08,252.95 C208.85,254.11 209.57,270.16 210.3,270.66 C211.03,271.16 211.96,260.32 212.95,256.27 C213.95,252.22 215.94,243.32 216.94,243.65 C217.93,243.99 218.7,254.53 219.59,258.49 C220.49,262.44 222.08,270.83 222.91,270 C223.74,269.17 224.36,252.85 225.13,252.95 C225.89,253.05 227.24,270.16 228.01,270.66 C228.77,271.16 229.49,259.86 230.22,256.27 C230.95,252.69 232.14,247.25 232.88,246.75 C233.61,246.26 234.36,252.25 235.09,252.95 C235.82,253.65 237.01,249.91 237.75,251.4 C238.48,252.9 239.2,260.85 239.96,262.91 C240.72,264.97 241.91,266.19 242.84,265.13 C243.77,264.06 245.26,256.66 246.16,255.83 C247.05,255 247.98,258.46 248.81,259.59 C249.64,260.72 250.83,263.19 251.69,263.36 C252.55,263.52 253.81,261.26 254.57,260.7 C255.33,260.14 256.22,259.26 256.78,259.59 C257.35,259.92 257.67,261.58 258.33,262.91 C259,264.24 260.38,268.12 261.21,268.45 C262.04,268.78 262.97,265.46 263.87,265.13 C264.76,264.79 266.19,266.23 267.19,266.23 C268.18,266.23 269.68,265.19 270.51,265.13 C271.34,265.06 271.89,265.86 272.72,265.79 C273.55,265.72 275.54,264.85 276.04,264.68" fill="none" stroke="#0068b7" stroke-width="2.2" stroke-linejoin="round" stroke-linecap="round"/>
<circle cx="108.91" cy="314.49" r="4.2" fill="#e8333d"/>
<circle cx="123.74" cy="293.46" r="4.2" fill="#e8333d"/>
<circle cx="155.84" cy="302.09" r="4.2" fill="#e8333d"/>
<circle cx="195.24" cy="293.46" r="4.2" fill="#e8333d"/>
<circle cx="215.61" cy="278.85" r="4.2" fill="#e8333d"/>
<circle cx="234.43" cy="310.28" r="4.2" fill="#e8333d"/>
<circle cx="252.8" cy="283.28" r="4.2" fill="#e8333d"/>
<path d="M311.96,323.79 C312.29,324.22 313.41,326.83 314.17,326.67 C314.94,326.5 316.29,322.95 317.05,322.68 C317.82,322.42 318.6,324.23 319.27,324.89 C319.93,325.56 320.92,328.1 321.48,327.11 C322.04,326.11 322.37,320.41 323.03,318.25 C323.69,316.1 325.08,313.38 325.91,312.72 C326.74,312.06 327.83,313 328.56,313.83 C329.29,314.66 330.05,316.59 330.78,318.25 C331.51,319.91 332.7,323.23 333.43,324.89 C334.16,326.55 334.98,328.16 335.65,329.32 C336.31,330.48 337.26,335.3 337.86,332.64 C338.46,329.99 339,318.75 339.63,311.61 C340.26,304.47 341.4,285.71 342.07,285.05 C342.73,284.39 343.56,303.53 344.06,307.19 C344.56,310.84 344.89,310.89 345.39,309.4 C345.88,307.9 346.85,295.56 347.38,297.22 C347.91,298.88 348.26,316.65 348.93,320.47 C349.59,324.29 350.94,322.18 351.81,322.68 C352.67,323.18 353.85,323.12 354.68,323.79 C355.51,324.45 356.54,326.11 357.34,327.11 C358.14,328.1 359.17,331.76 360,330.43 C360.83,329.1 361.94,322.74 362.87,318.25 C363.8,313.77 365.36,300.54 366.19,300.54 C367.02,300.54 367.74,314.43 368.41,318.25 C369.07,322.07 369.89,325.17 370.62,326 C371.35,326.83 372.35,325.45 373.28,323.79 C374.21,322.13 375.89,315.76 376.82,314.93 C377.75,314.1 378.75,316.76 379.48,318.25 C380.21,319.75 381.03,323.23 381.69,324.89 C382.35,326.55 383.24,330.98 383.9,329.32 C384.57,327.66 385.52,315.49 386.12,313.83 C386.71,312.17 387.32,319.58 387.89,318.25 C388.45,316.93 389.32,307.79 389.88,304.97 C390.44,302.15 391.15,297.78 391.65,299.44 C392.15,301.1 392.7,311.89 393.2,316.04 C393.7,320.19 394.31,326.11 394.97,327.11 C395.64,328.1 396.8,323.01 397.63,322.68 C398.46,322.35 399.64,324.23 400.51,324.89 C401.37,325.56 402.62,327.11 403.38,327.11 C404.15,327.11 404.93,325.89 405.6,324.89 C406.26,323.9 407.08,321.96 407.81,320.47 C408.54,318.97 409.74,315.27 410.47,314.93 C411.2,314.6 411.95,317.42 412.68,318.25 C413.41,319.08 414.67,319.3 415.34,320.47 C416,321.63 416.51,324.67 417.11,326 C417.71,327.33 418.66,329.65 419.32,329.32 C419.99,328.99 420.87,326.11 421.54,323.79 C422.2,321.46 423.08,315.98 423.75,313.83 C424.41,311.67 425.23,310.06 425.96,309.4 C426.69,308.73 428.02,310.89 428.62,309.4 C429.22,307.9 429.52,302.09 429.95,299.44 C430.38,296.78 431.03,289.53 431.5,291.69 C431.96,293.85 432.48,307.68 433.05,313.83 C433.61,319.97 434.6,332.97 435.26,332.64 C435.92,332.31 436.64,319.58 437.47,311.61 C438.3,303.64 439.93,282.17 440.79,279.52 C441.66,276.86 442.46,287.43 443.23,293.9 C443.99,300.38 445.32,316.87 445.88,322.68 C446.45,328.49 446.49,333.64 446.99,332.64 C447.49,331.65 448.38,319.53 449.21,316.04 C450.04,312.55 451.7,309.07 452.53,309.4 C453.36,309.73 454.08,315.6 454.74,318.25 C455.4,320.91 456.29,330.43 456.95,327.11 C457.62,323.79 458.5,302.76 459.17,296.12 C459.83,289.48 460.72,281.84 461.38,282.84 C462.04,283.83 462.86,295.95 463.59,302.76 C464.32,309.57 465.42,325.89 466.25,328.21 C467.08,330.54 468.36,319.08 469.13,318.25 C469.89,317.42 470.74,320.42 471.34,322.68 C471.94,324.94 472.55,333.31 473.11,333.31 C473.68,333.31 474.37,325.6 475.1,322.68 C475.84,319.76 476.99,315.98 477.98,313.83 C478.98,311.67 480.75,308.79 481.75,308.29 C482.74,307.79 483.69,309.18 484.62,310.51 C485.55,311.83 486.95,316.81 487.94,317.15 C488.94,317.48 490.27,312.89 491.26,312.72 C492.26,312.55 493.59,314.88 494.58,316.04 C495.58,317.2 496.91,318.47 497.9,320.47 C498.9,322.46 500.33,327.4 501.23,329.32 C502.12,331.25 503.05,333.64 503.88,333.31 C504.71,332.97 505.83,328.7 506.76,327.11 C507.69,325.51 509.08,323.34 510.08,322.68 C511.08,322.02 512.4,322.85 513.4,322.68 C514.4,322.51 515.62,321.91 516.72,321.57 C517.82,321.24 520.11,320.63 520.71,320.47" fill="none" stroke="#404040" stroke-width="1.9" stroke-linejoin="round" stroke-linecap="round"/>
<path d="M311.96,261.14 C312.29,261.34 313.51,262.54 314.17,262.47 C314.84,262.4 315.82,260.47 316.39,260.7 C316.95,260.93 317.37,262.69 317.94,264.02 C318.5,265.35 319.49,269.39 320.15,269.55 C320.82,269.72 321.77,266.29 322.37,265.13 C322.96,263.96 323.54,262.3 324.14,261.81 C324.73,261.31 325.62,262.7 326.35,261.81 C327.08,260.91 328.28,256 329.01,255.83 C329.74,255.66 330.56,258.97 331.22,260.7 C331.88,262.43 332.77,265.75 333.43,267.34 C334.1,268.93 334.98,270.4 335.65,271.32 C336.31,272.25 337.26,275.46 337.86,273.54 C338.46,271.61 339,265.23 339.63,258.49 C340.26,251.75 341.4,229.1 342.07,228.6 C342.73,228.1 343.56,251.68 344.06,255.17 C344.56,258.65 344.89,253.67 345.39,251.85 C345.88,250.02 346.81,241.5 347.38,242.99 C347.94,244.48 348.59,258.15 349.15,261.81 C349.71,265.46 350.51,266.68 351.14,267.34 C351.77,268 352.59,265.84 353.36,266.23 C354.12,266.63 355.3,269.1 356.23,270 C357.16,270.89 358.66,272.77 359.55,272.21 C360.45,271.65 361.28,269.79 362.21,266.23 C363.14,262.68 364.82,248.86 365.75,248.52 C366.68,248.19 367.61,260.47 368.41,264.02 C369.21,267.57 370.23,270.72 371.06,272.21 C371.89,273.7 373.08,274.45 373.94,273.98 C374.81,273.52 375.99,270.84 376.82,269.11 C377.65,267.38 378.75,263.07 379.48,262.47 C380.21,261.87 381.03,265.13 381.69,265.13 C382.35,265.13 383.17,263.73 383.9,262.47 C384.63,261.21 385.83,256.58 386.56,256.71 C387.29,256.85 388.18,262.16 388.77,263.36 C389.37,264.55 389.95,264.09 390.54,264.68 C391.14,265.28 392.09,266.54 392.76,267.34 C393.42,268.14 394.31,269.33 394.97,270 C395.64,270.66 396.52,272 397.19,271.77 C397.85,271.54 398.73,268.61 399.4,268.45 C400.06,268.28 400.78,270.43 401.61,270.66 C402.44,270.89 404,270.83 404.93,270 C405.86,269.17 407.15,266.26 407.81,265.13 C408.47,264 408.9,264.2 409.36,262.47 C409.83,260.74 410.41,253.22 410.91,253.62 C411.41,254.01 412.08,263.23 412.68,265.13 C413.28,267.02 414.3,266.3 414.89,266.23 C415.49,266.17 416.17,264.35 416.67,264.68 C417.16,265.02 417.65,267.65 418.21,268.45 C418.78,269.24 419.76,270 420.43,270 C421.09,270 421.88,269.01 422.64,268.45 C423.41,267.88 424.69,266.8 425.52,266.23 C426.35,265.67 427.51,266.18 428.18,264.68 C428.84,263.19 429.45,259.92 429.95,256.27 C430.44,252.62 431.03,240 431.5,240.33 C431.96,240.67 432.55,253.94 433.05,258.49 C433.54,263.03 434.15,270.99 434.82,270.66 C435.48,270.33 436.58,263.91 437.47,256.27 C438.37,248.64 439.93,222.74 440.79,219.75 C441.66,216.76 442.46,229.54 443.23,236.35 C443.99,243.16 445.09,260.81 445.88,265.13 C446.68,269.44 447.81,265.29 448.54,265.13 C449.27,264.96 450.09,265.08 450.75,264.02 C451.42,262.96 452.3,257.38 452.97,258.04 C453.63,258.71 454.58,267.72 455.18,268.45 C455.78,269.18 456.36,264.91 456.95,262.91 C457.55,260.92 458.44,257.89 459.17,255.17 C459.9,252.44 461.09,244.6 461.82,244.76 C462.55,244.93 463.27,252.72 464.04,256.27 C464.8,259.83 466.08,268.38 466.91,268.45 C467.74,268.51 468.67,256.05 469.57,256.71 C470.47,257.38 472.06,271.94 472.89,272.87 C473.72,273.8 474.34,265.4 475.1,262.91 C475.87,260.42 477.22,257 477.98,256.27 C478.75,255.54 479.53,258.04 480.2,258.04 C480.86,258.04 481.75,256.04 482.41,256.27 C483.07,256.5 483.96,258.33 484.62,259.59 C485.29,260.85 486.07,264.58 486.84,264.68 C487.6,264.78 488.95,260.85 489.71,260.26 C490.48,259.66 491.2,259.97 491.93,260.7 C492.66,261.43 493.79,263.73 494.58,265.13 C495.38,266.52 496.41,269.27 497.24,270 C498.07,270.73 499.19,270 500.12,270 C501.05,270 502.44,270.23 503.44,270 C504.43,269.76 505.76,268.91 506.76,268.45 C507.76,267.98 509.08,267 510.08,266.9 C511.08,266.8 512.4,267.55 513.4,267.78 C514.4,268.02 515.62,268.18 516.72,268.45 C517.82,268.71 520.11,269.39 520.71,269.55" fill="none" stroke="#0068b7" stroke-width="2.2" stroke-linejoin="round" stroke-linecap="round"/>
<path d="M555.3,319.36 C555.73,320.36 557.31,324.57 558.17,326 C559.04,327.43 560.22,328.71 561.05,328.88 C561.88,329.04 562.98,328.04 563.71,327.11 C564.44,326.18 565.26,324.01 565.92,322.68 C566.59,321.35 567.47,318.65 568.14,318.25 C568.8,317.86 569.62,319.53 570.35,320.02 C571.08,320.52 572.18,321.01 573.01,321.57 C573.84,322.14 575.12,322.63 575.88,323.79 C576.65,324.95 577.43,327.99 578.1,329.32 C578.76,330.65 579.65,332.97 580.31,332.64 C580.98,332.31 581.76,335.24 582.52,327.11 C583.29,318.97 584.64,281.73 585.4,278.41 C586.17,275.09 587.05,297.67 587.62,304.97 C588.18,312.28 588.6,323.12 589.17,327.11 C589.73,331.09 590.71,331.87 591.38,331.54 C592.04,331.2 592.93,326.39 593.59,324.89 C594.26,323.4 595.14,321.91 595.81,321.57 C596.47,321.24 597.36,321.92 598.02,322.68 C598.68,323.44 599.47,325.74 600.23,326.67 C601,327.59 602.21,329.14 603.11,328.88 C604.01,328.61 605.21,326.22 606.21,324.89 C607.21,323.57 608.82,319.69 609.75,320.02 C610.68,320.36 611.68,325.65 612.41,327.11 C613.14,328.57 613.96,330.26 614.62,329.76 C615.29,329.27 616.17,324.92 616.84,323.79 C617.5,322.66 618.22,322.47 619.05,322.24 C619.88,322.01 621.54,322.01 622.37,322.24 C623.2,322.47 623.82,322.39 624.58,323.79 C625.35,325.18 626.7,331.7 627.46,331.54 C628.22,331.37 628.94,324.34 629.67,322.68 C630.41,321.02 631.6,321.8 632.33,320.47 C633.06,319.14 633.88,313.16 634.54,313.83 C635.21,314.49 636.09,322.74 636.76,324.89 C637.42,327.05 638.24,328.38 638.97,328.21 C639.7,328.05 640.7,324.68 641.63,323.79 C642.56,322.89 644.31,321.91 645.17,322.24 C646.03,322.57 646.65,324.94 647.38,326 C648.11,327.06 649.31,329.16 650.04,329.32 C650.77,329.49 651.59,328.1 652.25,327.11 C652.92,326.11 653.64,323.51 654.47,322.68 C655.3,321.85 656.96,321.41 657.79,321.57 C658.62,321.74 659.34,322.96 660,323.79 C660.67,324.62 661.45,326.21 662.21,327.11 C662.98,328 664.33,329.76 665.09,329.76 C665.86,329.76 666.64,327.77 667.31,327.11 C667.97,326.44 668.86,325.34 669.52,325.34 C670.18,325.34 670.94,327.67 671.73,327.11 C672.53,326.54 674.04,321.57 674.83,321.57 C675.63,321.57 676.28,329.27 677.05,327.11 C677.81,324.95 678.83,312.83 679.92,307.19 C681.02,301.54 683.35,290.8 684.35,289.48 C685.35,288.15 685.9,294.01 686.56,298.33 C687.23,302.65 688.21,313.01 688.78,318.25 C689.34,323.5 689.76,331.98 690.33,333.31 C690.89,334.63 691.78,328.7 692.54,327.11 C693.3,325.51 694.66,323.01 695.42,322.68 C696.18,322.35 697.07,323.9 697.63,324.89 C698.2,325.89 698.52,331.65 699.18,329.32 C699.85,327 701.3,314.38 702.06,309.4 C702.82,304.42 703.61,296.78 704.27,296.12 C704.94,295.45 705.72,300.16 706.49,304.97 C707.25,309.79 708.47,324.73 709.36,328.21 C710.26,331.7 711.4,327.38 712.46,328.21 C713.53,329.04 715.52,333.91 716.45,333.75 C717.38,333.58 718,328.93 718.66,327.11 C719.33,325.28 720.14,322.57 720.88,321.57 C721.61,320.58 722.7,321.13 723.53,320.47 C724.36,319.8 725.65,317.15 726.41,317.15 C727.17,317.15 727.96,319.47 728.62,320.47 C729.29,321.46 730.01,324.19 730.84,323.79 C731.67,323.39 733.26,317.98 734.16,317.81 C735.05,317.64 735.98,321.29 736.81,322.68 C737.64,324.08 738.76,326.11 739.69,327.11 C740.62,328.1 742.18,328.66 743.01,329.32 C743.84,329.99 744.4,331.7 745.23,331.54 C746.06,331.37 747.55,329.21 748.55,328.21 C749.54,327.22 750.87,325.33 751.87,324.89 C752.86,324.46 754.26,325.07 755.19,325.34 C756.12,325.6 757.07,326.9 758.06,326.67 C759.06,326.43 760.83,324.55 761.83,323.79 C762.82,323.02 764.27,321.91 764.71,321.57" fill="none" stroke="#404040" stroke-width="1.9" stroke-linejoin="round" stroke-linecap="round"/>
<path d="M555.3,266.23 C555.73,266.33 557.31,266.47 558.17,266.9 C559.04,267.33 560.22,268.31 561.05,269.11 C561.88,269.91 562.98,272.31 563.71,272.21 C564.44,272.11 565.32,269.78 565.92,268.45 C566.52,267.12 567.03,264.02 567.69,263.36 C568.36,262.69 569.62,264.58 570.35,264.02 C571.08,263.46 571.9,259.43 572.56,259.59 C573.23,259.76 574.11,263.47 574.78,265.13 C575.44,266.79 576.33,269.6 576.99,270.66 C577.65,271.72 578.54,271.78 579.2,272.21 C579.87,272.64 580.82,275.27 581.42,273.54 C582.02,271.81 582.52,268.77 583.19,260.7 C583.85,252.63 585.11,220.41 585.85,219.75 C586.58,219.08 587.46,250.3 588.06,256.27 C588.66,262.25 589.33,259.19 589.83,259.59 C590.33,259.99 590.91,257.77 591.38,258.93 C591.84,260.09 592.43,265.68 592.93,267.34 C593.43,269 594.1,270.16 594.7,270 C595.3,269.83 596.25,266.37 596.91,266.23 C597.58,266.1 598.46,268.28 599.13,269.11 C599.79,269.94 600.61,271.44 601.34,271.77 C602.07,272.1 603.27,272.15 604,271.32 C604.73,270.49 605.45,267.89 606.21,266.23 C606.97,264.57 608.32,259.92 609.09,260.26 C609.85,260.59 610.64,266.72 611.3,268.45 C611.97,270.17 612.75,270.94 613.52,271.77 C614.28,272.6 615.56,273.72 616.39,273.98 C617.22,274.25 618.32,274.37 619.05,273.54 C619.78,272.71 620.6,269.81 621.26,268.45 C621.93,267.09 622.81,264.46 623.48,264.46 C624.14,264.46 625.03,268.35 625.69,268.45 C626.35,268.55 627.24,266.95 627.9,265.13 C628.57,263.3 629.45,256.11 630.12,256.27 C630.78,256.44 631.67,264.91 632.33,266.23 C633,267.56 633.88,264.7 634.54,265.13 C635.21,265.56 636.09,268.05 636.76,269.11 C637.42,270.17 638.24,271.81 638.97,272.21 C639.7,272.61 640.8,272 641.63,271.77 C642.46,271.54 643.64,270.93 644.51,270.66 C645.37,270.4 646.55,270.76 647.38,270 C648.21,269.23 649.31,266.13 650.04,265.57 C650.77,265 651.59,266.3 652.25,266.23 C652.92,266.17 653.8,264.56 654.47,265.13 C655.13,265.69 655.95,269.4 656.68,270 C657.41,270.59 658.51,269.11 659.34,269.11 C660.17,269.11 661.29,270 662.21,270 C663.14,270 664.64,269.11 665.54,269.11 C666.43,269.11 667.36,270.26 668.19,270 C669.02,269.73 670.31,267.9 671.07,267.34 C671.83,266.78 672.62,267.3 673.28,266.23 C673.95,265.17 674.73,259.16 675.5,260.26 C676.26,261.35 677.54,275.46 678.37,273.54 C679.2,271.61 680.13,255.25 681.03,247.42 C681.93,239.58 683.52,223.29 684.35,221.3 C685.18,219.3 685.9,227.73 686.56,234.14 C687.23,240.54 688.11,259.77 688.78,264.02 C689.44,268.27 690.33,262.37 690.99,262.47 C691.66,262.57 692.54,264.78 693.21,264.68 C693.87,264.58 694.75,261.74 695.42,261.81 C696.08,261.87 697.07,263.9 697.63,265.13 C698.2,266.36 698.62,270.33 699.18,270 C699.75,269.66 700.73,265.14 701.4,262.91 C702.06,260.69 702.95,256.89 703.61,255.17 C704.27,253.44 705.16,250.57 705.82,251.4 C706.49,252.23 707.27,258.14 708.04,260.7 C708.8,263.26 710.08,267.62 710.91,268.45 C711.74,269.28 712.74,265.4 713.57,266.23 C714.4,267.06 715.68,273.65 716.45,273.98 C717.21,274.31 717.83,270.37 718.66,268.45 C719.49,266.52 721.15,262.04 721.98,261.14 C722.81,260.25 723.53,262.14 724.2,262.47 C724.86,262.8 725.58,263.29 726.41,263.36 C727.24,263.42 728.9,262.65 729.73,262.91 C730.56,263.18 731.21,265.06 731.94,265.13 C732.67,265.19 733.87,263.19 734.6,263.36 C735.33,263.52 736.05,265.24 736.81,266.23 C737.58,267.23 738.76,269.17 739.69,270 C740.62,270.83 742.02,271.57 743.01,271.77 C744.01,271.97 745.34,271.39 746.33,271.32 C747.33,271.26 748.66,271.66 749.65,271.32 C750.65,270.99 751.98,269.38 752.97,269.11 C753.97,268.85 755.3,269.42 756.29,269.55 C757.29,269.69 758.45,269.83 759.61,270 C760.78,270.16 763.38,270.56 764.04,270.66" fill="none" stroke="#0068b7" stroke-width="2.2" stroke-linejoin="round" stroke-linecap="round"/>
<path d="M800.96,316.04 C801.19,317.2 801.95,322.13 802.51,323.79 C803.08,325.45 804.06,327.44 804.72,327.11 C805.39,326.78 806.27,321.57 806.94,321.57 C807.6,321.57 808.49,326.78 809.15,327.11 C809.82,327.44 810.6,324.95 811.37,323.79 C812.13,322.63 813.48,320.46 814.24,319.36 C815.01,318.26 815.79,317.05 816.46,316.48 C817.12,315.92 818.01,315.66 818.67,315.6 C819.33,315.53 820.22,314.81 820.88,316.04 C821.55,317.27 822.43,321.8 823.1,323.79 C823.76,325.78 824.75,329.49 825.31,329.32 C825.88,329.16 826.36,325.34 826.86,322.68 C827.36,320.02 828.1,314.1 828.63,311.61 C829.16,309.12 829.8,305.58 830.4,306.08 C831,306.58 831.95,313.11 832.62,314.93 C833.28,316.76 834.17,316.76 834.83,318.25 C835.49,319.75 836.38,323.57 837.04,324.89 C837.71,326.22 838.53,326.94 839.26,327.11 C839.99,327.27 841.12,326.5 841.91,326 C842.71,325.5 843.74,324.45 844.57,323.79 C845.4,323.12 846.58,321.41 847.45,321.57 C848.31,321.74 849.49,323.9 850.32,324.89 C851.15,325.89 852.25,328.38 852.98,328.21 C853.71,328.05 854.53,324.62 855.19,323.79 C855.86,322.96 856.68,322.91 857.41,322.68 C858.14,322.45 859.33,322.64 860.06,322.24 C860.8,321.84 861.61,320.95 862.28,320.02 C862.94,319.09 863.73,316.8 864.49,316.04 C865.26,315.28 866.61,314.1 867.37,314.93 C868.13,315.76 868.82,319.42 869.58,321.57 C870.35,323.73 871.7,329.65 872.46,329.32 C873.22,328.99 874.11,321.35 874.67,319.36 C875.24,317.37 875.66,315.71 876.22,316.04 C876.79,316.37 877.77,321.97 878.44,321.57 C879.1,321.18 879.99,312.89 880.65,313.38 C881.32,313.88 882.1,322.5 882.86,324.89 C883.63,327.29 884.91,329.65 885.74,329.32 C886.57,328.99 887.67,323.84 888.4,322.68 C889.13,321.52 889.88,321.64 890.61,321.57 C891.34,321.51 892.54,322.74 893.27,322.24 C894,321.74 894.82,318.52 895.48,318.25 C896.15,317.99 897.1,321.13 897.7,320.47 C898.29,319.8 898.87,313.83 899.47,313.83 C900.06,313.83 901.02,319.14 901.68,320.47 C902.34,321.8 903.16,321.68 903.89,322.68 C904.62,323.68 905.82,325.95 906.55,327.11 C907.28,328.27 908.1,331.42 908.76,330.43 C909.43,329.43 910.31,323.95 910.98,320.47 C911.64,316.98 912.59,310.17 913.19,307.19 C913.79,304.2 914.36,301.61 914.96,300.54 C915.56,299.48 916.58,301.6 917.18,300.1 C917.77,298.61 918.48,292.77 918.95,290.58 C919.41,288.39 919.81,284 920.28,285.49 C920.74,286.99 921.51,294.97 922.05,300.54 C922.58,306.12 923.29,318.2 923.82,322.68 C924.35,327.16 924.99,331.42 925.59,330.43 C926.19,329.43 927.07,318.93 927.8,316.04 C928.53,313.15 929.73,312 930.46,311.17 C931.19,310.34 932.01,309.78 932.67,310.51 C933.34,311.24 934.22,313.55 934.88,316.04 C935.55,318.53 936.5,326.44 937.1,327.11 C937.7,327.77 938.27,322.29 938.87,320.47 C939.47,318.64 940.42,314.93 941.08,314.93 C941.75,314.93 942.63,318.31 943.3,320.47 C943.96,322.63 944.85,331.31 945.51,329.32 C946.17,327.33 947.06,312.33 947.72,307.19 C948.39,302.04 949.27,294.84 949.94,295.01 C950.6,295.18 951.49,303.48 952.15,308.29 C952.82,313.11 953.7,325.28 954.36,327.11 C955.03,328.93 955.91,322.96 956.58,320.47 C957.24,317.98 958.13,310.51 958.79,310.51 C959.46,310.51 960.44,316.98 961.01,320.47 C961.57,323.95 961.99,333.42 962.56,333.75 C963.12,334.08 964.1,325 964.77,322.68 C965.43,320.36 966.32,320.58 966.98,318.25 C967.65,315.93 968.53,311.5 969.2,307.19 C969.86,302.87 970.75,293.79 971.41,289.48 C972.07,285.16 972.96,278.41 973.62,278.41 C974.29,278.41 975.17,285.16 975.84,289.48 C976.5,293.79 977.39,301.87 978.05,307.19 C978.71,312.5 979.6,321.74 980.26,324.89 C980.93,328.05 981.71,328.05 982.48,328.21 C983.24,328.38 984.53,326.83 985.36,326 C986.19,325.17 987.21,322.51 988.01,322.68 C988.81,322.85 989.84,325.78 990.67,327.11 C991.5,328.44 992.62,331.54 993.55,331.54 C994.48,331.54 995.87,328.27 996.87,327.11 C997.86,325.95 999.19,324.52 1000.19,323.79 C1001.18,323.06 1002.51,322.4 1003.51,322.24 C1004.5,322.07 1005.83,322.68 1006.83,322.68 C1007.82,322.68 1009.65,322.3 1010.15,322.24" fill="none" stroke="#404040" stroke-width="1.9" stroke-linejoin="round" stroke-linecap="round"/>
<path d="M800.96,265.57 C801.29,265.84 802.51,267.47 803.17,267.34 C803.84,267.21 804.82,264.68 805.39,264.68 C805.95,264.68 806.37,266.34 806.94,267.34 C807.5,268.34 808.49,271.99 809.15,271.32 C809.82,270.66 810.77,265.17 811.37,262.91 C811.96,260.66 812.54,256.94 813.14,256.27 C813.73,255.61 814.75,259.32 815.35,258.49 C815.95,257.66 816.52,253.33 817.12,250.74 C817.72,248.15 818.67,241.72 819.33,241.22 C820,240.72 820.82,245.49 821.55,247.42 C822.28,249.34 823.54,251.73 824.2,254.06 C824.87,256.38 825.44,260.42 825.98,262.91 C826.51,265.4 827.28,270.99 827.75,270.66 C828.21,270.33 828.54,264.02 829.07,260.7 C829.61,257.38 830.69,248.36 831.29,248.52 C831.89,248.69 832.53,260.64 833.06,261.81 C833.59,262.97 834.33,257.5 834.83,256.27 C835.33,255.04 835.81,252.12 836.38,253.62 C836.94,255.11 837.93,264.51 838.59,266.23 C839.26,267.96 840.04,265.36 840.81,265.13 C841.57,264.89 842.85,264.68 843.68,264.68 C844.51,264.68 845.54,264.79 846.34,265.13 C847.14,265.46 848.27,266.57 849,266.9 C849.73,267.23 850.61,268.44 851.21,267.34 C851.81,266.24 852.38,261.58 852.98,259.59 C853.58,257.6 854.53,253.89 855.19,254.06 C855.86,254.22 856.74,258.38 857.41,260.7 C858.07,263.02 858.96,267.89 859.62,269.55 C860.29,271.21 861.17,271.04 861.84,271.77 C862.5,272.5 863.39,275.09 864.05,274.42 C864.71,273.76 865.6,270.06 866.26,267.34 C866.93,264.62 867.81,258.26 868.48,256.27 C869.14,254.28 869.96,254.89 870.69,254.06 C871.42,253.23 872.62,253.56 873.35,250.74 C874.08,247.92 874.96,235.08 875.56,235.24 C876.16,235.41 876.8,247.86 877.33,251.85 C877.86,255.83 878.6,260.74 879.1,261.81 C879.6,262.87 880.19,258.1 880.65,258.93 C881.12,259.76 881.54,265.25 882.2,267.34 C882.86,269.43 884.31,272.71 885.08,272.87 C885.84,273.04 886.53,269.28 887.29,268.45 C888.06,267.62 889.41,267.77 890.17,267.34 C890.93,266.91 891.72,265.9 892.38,265.57 C893.05,265.24 893.93,265.92 894.6,265.13 C895.26,264.33 896.01,264.31 896.81,260.26 C897.61,256.21 899.18,239.38 899.91,238.12 C900.64,236.86 901.08,248.19 901.68,251.85 C902.28,255.5 903.23,260.64 903.89,262.47 C904.56,264.3 905.44,263.62 906.11,264.02 C906.77,264.42 907.49,264.89 908.32,265.13 C909.15,265.36 910.81,266.73 911.64,265.57 C912.47,264.41 913.19,259.6 913.86,257.38 C914.52,255.15 915.5,252.23 916.07,250.74 C916.63,249.24 917.19,249.91 917.62,247.42 C918.05,244.93 918.48,238.29 918.95,234.14 C919.41,229.99 920.22,219.08 920.72,219.75 C921.22,220.41 921.74,231.26 922.27,238.56 C922.8,245.87 923.63,266.12 924.26,268.45 C924.89,270.77 925.68,259.27 926.47,254.06 C927.27,248.85 928.81,236.18 929.57,233.69 C930.34,231.2 930.93,234.73 931.56,237.46 C932.2,240.18 933.11,248.43 933.78,251.85 C934.44,255.27 935.23,259.86 935.99,260.26 C936.76,260.66 938.11,254.27 938.87,254.5 C939.63,254.73 940.29,259.22 941.08,261.81 C941.88,264.4 943.29,273.1 944.18,271.77 C945.08,270.44 946.2,258 947.06,252.95 C947.92,247.9 949.17,238.29 949.94,238.12 C950.7,237.95 951.35,247.13 952.15,251.85 C952.95,256.56 954.45,268.72 955.25,269.55 C956.05,270.38 956.8,261.3 957.46,257.38 C958.13,253.46 959.15,244.6 959.68,243.43 C960.21,242.27 960.57,246.05 961.01,249.63 C961.44,253.22 961.99,266.68 962.56,267.34 C963.12,268 964.1,258.04 964.77,254.06 C965.43,250.07 966.32,241.61 966.98,240.78 C967.65,239.95 968.53,247.69 969.2,248.52 C969.86,249.35 970.75,245.98 971.41,246.31 C972.07,246.64 972.79,248.75 973.62,250.74 C974.45,252.73 976.05,258.26 976.94,259.59 C977.84,260.92 978.77,258.83 979.6,259.59 C980.43,260.36 981.61,263.36 982.48,264.68 C983.34,266.01 984.36,267.88 985.36,268.45 C986.35,269.01 988.06,268.78 989.12,268.45 C990.18,268.12 991.44,267.06 992.44,266.23 C993.43,265.4 994.76,264.01 995.76,262.91 C996.76,261.82 998.08,259.09 999.08,258.93 C1000.08,258.76 1001.57,260.88 1002.4,261.81 C1003.23,262.74 1003.85,264.46 1004.61,265.13 C1005.38,265.79 1006.66,265.64 1007.49,266.23 C1008.32,266.83 1009.75,268.68 1010.15,269.11" fill="none" stroke="#0068b7" stroke-width="2.2" stroke-linejoin="round" stroke-linecap="round"/>
<circle cx="818.67" cy="309.4" r="4.2" fill="#e8333d"/>
<circle cx="837.49" cy="313.83" r="4.2" fill="#e8333d"/>
<circle cx="856.3" cy="315.6" r="4.2" fill="#e8333d"/>
<circle cx="877.33" cy="307.19" r="4.2" fill="#e8333d"/>
<circle cx="899.47" cy="306.52" r="4.2" fill="#e8333d"/>
<circle cx="931.56" cy="302.76" r="4.2" fill="#e8333d"/>
<circle cx="973.62" cy="273.32" r="4.2" fill="#e8333d"/>
<path d="M65.96,456.47 C66.29,456.8 67.61,457.68 68.17,458.68 C68.74,459.68 69.16,462.05 69.72,463.11 C70.29,464.17 71.27,466.26 71.94,465.76 C72.6,465.27 73.39,461.58 74.15,459.79 C74.92,457.99 76.27,454.64 77.03,453.81 C77.79,452.98 78.58,453.86 79.24,454.25 C79.91,454.65 80.79,455.87 81.46,456.47 C82.12,457.06 83.01,457.57 83.67,458.24 C84.33,458.9 85.22,460.16 85.88,460.89 C86.55,461.62 87.43,462.44 88.1,463.11 C88.76,463.77 89.65,464.66 90.31,465.32 C90.98,465.99 91.96,470.86 92.52,467.54 C93.09,464.21 93.58,451.32 94.07,443.19 C94.57,435.05 95.31,414.3 95.85,413.3 C96.38,412.31 97.12,429.41 97.62,436.54 C98.11,443.68 98.43,456.91 99.17,460.89 C99.9,464.88 101.59,462.84 102.49,463.11 C103.38,463.37 104.41,463 105.14,462.67 C105.87,462.33 106.59,460.99 107.36,460.89 C108.12,460.79 109.37,461.5 110.23,462 C111.1,462.5 112.28,464.05 113.11,464.21 C113.94,464.38 114.87,463.77 115.77,463.11 C116.66,462.44 118.26,460.52 119.09,459.79 C119.92,459.06 120.64,457.91 121.3,458.24 C121.97,458.57 122.75,461 123.52,462 C124.28,463 125.56,465.04 126.39,464.88 C127.22,464.71 128.15,462.09 129.05,460.89 C129.95,459.7 131.54,457.24 132.37,456.91 C133.2,456.58 133.82,457.42 134.58,458.68 C135.35,459.94 136.63,465.49 137.46,465.32 C138.29,465.16 139.39,458.9 140.12,457.57 C140.85,456.25 141.73,457.96 142.33,456.47 C142.93,454.97 143.6,449.51 144.1,447.61 C144.6,445.72 145.19,442.85 145.65,443.85 C146.12,444.85 146.7,451.1 147.2,454.25 C147.7,457.41 148.31,463.48 148.97,464.88 C149.64,466.27 150.8,463.82 151.63,463.55 C152.46,463.29 153.64,463.24 154.51,463.11 C155.37,462.98 156.49,462.83 157.38,462.67 C158.28,462.5 159.69,462.43 160.48,462 C161.28,461.57 162.03,460.55 162.7,459.79 C163.36,459.02 164.25,457.01 164.91,456.91 C165.57,456.81 166.46,458.53 167.12,459.12 C167.79,459.72 168.57,460.56 169.34,460.89 C170.1,461.23 171.35,461 172.21,461.34 C173.08,461.67 174.26,463.17 175.09,463.11 C175.92,463.04 176.85,461.39 177.75,460.89 C178.65,460.4 180.24,460.12 181.07,459.79 C181.9,459.46 182.69,459.78 183.28,458.68 C183.88,457.58 184.56,452.32 185.05,452.48 C185.55,452.65 186.04,457.36 186.6,459.79 C187.17,462.21 188.09,470.8 188.82,468.64 C189.55,466.48 190.48,451.04 191.47,445.4 C192.47,439.75 194.53,431.67 195.46,431.01 C196.39,430.35 197.01,436.82 197.67,440.97 C198.34,445.12 199.15,455.53 199.88,458.68 C200.62,461.84 201.71,461.34 202.54,462 C203.37,462.67 204.56,462.61 205.42,463.11 C206.28,463.61 207.53,465.16 208.3,465.32 C209.06,465.49 209.85,466.87 210.51,464.21 C211.17,461.56 211.99,452.1 212.72,447.61 C213.45,443.13 214.65,434.66 215.38,434.33 C216.11,434 216.76,440.92 217.59,445.4 C218.42,449.88 220.08,462.22 220.91,464.21 C221.74,466.21 222.56,460.24 223.13,458.68 C223.69,457.12 224.18,453.15 224.68,453.81 C225.18,454.47 225.92,460.88 226.45,463.11 C226.98,465.33 227.56,469.31 228.22,468.64 C228.88,467.98 229.88,460.84 230.88,458.68 C231.87,456.52 233.93,454.75 234.86,454.25 C235.79,453.76 236.41,454.7 237.07,455.36 C237.74,456.02 238.56,457.85 239.29,458.68 C240.02,459.51 241.21,461.23 241.94,460.89 C242.67,460.56 243.43,457.63 244.16,456.47 C244.89,455.3 246.08,453.15 246.81,453.15 C247.54,453.15 248.26,455.14 249.03,456.47 C249.79,457.8 250.98,460.74 251.9,462 C252.83,463.26 254.23,464.21 255.23,464.88 C256.22,465.54 257.55,466.69 258.55,466.43 C259.54,466.16 260.87,463.77 261.87,463.11 C262.86,462.44 264.26,462.07 265.19,462 C266.12,461.93 267.07,462.76 268.06,462.67 C269.06,462.57 270.76,461.67 271.83,461.34 C272.89,461 274.65,460.58 275.15,460.45" fill="none" stroke="#404040" stroke-width="1.9" stroke-linejoin="round" stroke-linecap="round"/>
<path d="M65.96,402.9 C66.39,403.03 68.01,403.38 68.84,403.78 C69.67,404.18 70.7,404.89 71.5,405.55 C72.29,406.22 73.42,408.38 74.15,408.21 C74.88,408.04 75.77,405.58 76.37,404.45 C76.96,403.32 77.54,401.12 78.14,400.68 C78.73,400.25 79.62,401.5 80.35,401.57 C81.08,401.64 82.28,400.7 83.01,401.13 C83.74,401.56 84.46,403.72 85.22,404.45 C85.98,405.18 87.23,405.43 88.1,406 C88.96,406.56 90.21,408.94 90.98,408.21 C91.74,407.48 92.62,406.17 93.19,401.13 C93.75,396.08 94.27,381.54 94.74,374.56 C95.2,367.59 95.79,353.98 96.29,354.64 C96.79,355.3 97.56,372.02 98.06,378.99 C98.56,385.96 99.11,398.07 99.61,401.13 C100.11,404.18 100.88,398.86 101.38,399.36 C101.88,399.85 102.36,403.35 102.93,404.45 C103.49,405.54 104.38,406.33 105.14,406.66 C105.91,406.99 107.09,406.56 108.02,406.66 C108.95,406.76 110.34,407.09 111.34,407.32 C112.34,407.56 113.73,408.54 114.66,408.21 C115.59,407.88 116.71,406.34 117.54,405.11 C118.37,403.88 119.46,400.12 120.19,400.02 C120.93,399.92 121.68,403.29 122.41,404.45 C123.14,405.61 124.23,407.2 125.06,407.77 C125.89,408.33 127.18,407.94 127.94,408.21 C128.71,408.48 129.39,410.34 130.16,409.54 C130.92,408.74 132.27,403.76 133.03,402.9 C133.8,402.03 134.58,403.55 135.25,403.78 C135.91,404.02 136.66,405.24 137.46,404.45 C138.26,403.65 139.76,398.64 140.56,398.47 C141.36,398.3 142.11,402.61 142.77,403.34 C143.44,404.07 144.32,402.94 144.99,403.34 C145.65,403.74 146.44,405.27 147.2,406 C147.96,406.73 149.22,408.01 150.08,408.21 C150.94,408.41 152.13,407.39 152.96,407.32 C153.79,407.26 154.82,407.97 155.61,407.77 C156.41,407.57 157.44,406.49 158.27,406 C159.1,405.5 160.22,405.34 161.15,404.45 C162.08,403.55 163.64,399.79 164.47,400.02 C165.3,400.25 165.95,405.1 166.68,406 C167.41,406.89 168.51,406 169.34,406 C170.17,406 171.29,405.9 172.21,406 C173.14,406.1 174.54,406.73 175.54,406.66 C176.53,406.59 177.86,405.89 178.86,405.55 C179.85,405.22 181.41,405.11 182.18,404.45 C182.94,403.78 183.42,402.79 183.95,401.13 C184.48,399.47 185.19,393.05 185.72,393.38 C186.25,393.71 187.02,401.18 187.49,403.34 C187.95,405.5 188.22,410.09 188.82,407.77 C189.41,405.44 190.54,393.99 191.47,387.85 C192.4,381.7 194.09,367.81 195.01,366.82 C195.94,365.82 196.94,376.06 197.67,381.2 C198.4,386.35 199.22,398.54 199.88,401.13 C200.55,403.72 201.5,398.4 202.1,398.47 C202.7,398.54 203.27,401 203.87,401.57 C204.47,402.13 205.42,401.47 206.08,402.23 C206.75,403 207.67,405.66 208.3,406.66 C208.93,407.66 209.56,410.2 210.29,408.87 C211.02,407.55 212.24,400.79 213.17,397.81 C214.1,394.82 215.56,388.62 216.49,388.95 C217.42,389.28 218.6,397.7 219.36,400.02 C220.13,402.34 220.91,404.55 221.58,404.45 C222.24,404.35 223.23,399.85 223.79,399.36 C224.36,398.86 224.78,399.7 225.34,401.13 C225.91,402.55 226.89,408.54 227.56,408.87 C228.22,409.21 229.1,405 229.77,403.34 C230.43,401.68 231.22,398.2 231.98,397.81 C232.75,397.41 234.03,400.12 234.86,400.68 C235.69,401.25 236.62,401.17 237.52,401.57 C238.41,401.97 239.91,402.74 240.84,403.34 C241.77,403.94 242.88,405.39 243.71,405.55 C244.54,405.72 245.47,404.38 246.37,404.45 C247.27,404.51 248.7,405.43 249.69,406 C250.69,406.56 252.02,408.01 253.01,408.21 C254.01,408.41 255.34,407.46 256.33,407.32 C257.33,407.19 258.66,407.52 259.65,407.32 C260.65,407.13 261.98,406.33 262.97,406 C263.97,405.66 265.13,405.11 266.29,405.11 C267.46,405.11 269.39,405.76 270.72,406 C272.05,406.23 274.48,406.56 275.15,406.66" fill="none" stroke="#0068b7" stroke-width="2.2" stroke-linejoin="round" stroke-linecap="round"/>
<path d="M310.96,458.68 C311.29,458.85 312.41,459.46 313.17,459.79 C313.94,460.12 315.29,460.06 316.05,460.89 C316.82,461.72 317.54,465.65 318.27,465.32 C319,464.99 320.19,460.51 320.92,458.68 C321.65,456.85 322.47,453.88 323.14,453.15 C323.8,452.42 324.69,453.48 325.35,453.81 C326.01,454.14 326.97,455.03 327.56,455.36 C328.16,455.69 328.84,455.03 329.33,456.02 C329.83,457.02 330.32,460.87 330.88,462 C331.45,463.13 332.43,463.05 333.1,463.55 C333.76,464.05 334.65,464.79 335.31,465.32 C335.98,465.85 336.96,469.75 337.52,467.09 C338.09,464.44 338.58,453.69 339.07,447.61 C339.57,441.54 340.31,426.58 340.85,426.58 C341.38,426.58 342.12,443.06 342.62,447.61 C343.11,452.16 343.6,455.91 344.17,456.91 C344.73,457.91 345.81,453.66 346.38,454.25 C346.94,454.85 347.36,459.4 347.93,460.89 C348.49,462.39 349.38,463.95 350.14,464.21 C350.91,464.48 352.26,463 353.02,462.67 C353.78,462.33 354.47,461.87 355.23,462 C356,462.13 357.28,463.22 358.11,463.55 C358.94,463.88 359.97,465.28 360.77,464.21 C361.56,463.15 362.76,458.19 363.42,456.47 C364.09,454.74 364.6,452.04 365.19,452.7 C365.79,453.37 366.68,459.17 367.41,460.89 C368.14,462.62 369.23,463.62 370.06,464.21 C370.89,464.81 372.08,465.54 372.94,464.88 C373.81,464.21 374.99,461.12 375.82,459.79 C376.65,458.46 377.75,456.02 378.48,456.02 C379.21,456.02 379.96,458.72 380.69,459.79 C381.42,460.85 382.52,462.94 383.35,463.11 C384.18,463.27 385.46,461.89 386.22,460.89 C386.99,459.9 387.84,460.29 388.44,456.47 C389.04,452.65 389.71,436.1 390.21,435.44 C390.71,434.77 391.26,447.56 391.76,452.04 C392.26,456.52 392.93,463.4 393.53,465.32 C394.13,467.25 395.01,465.28 395.74,464.88 C396.47,464.48 397.6,462.93 398.4,462.67 C399.2,462.4 400.23,462.98 401.06,463.11 C401.89,463.24 403.07,464.21 403.93,463.55 C404.8,462.89 406.15,461.4 406.81,458.68 C407.47,455.96 407.86,448.99 408.36,445.4 C408.86,441.81 409.63,434.11 410.13,434.77 C410.63,435.44 411.12,446.57 411.68,449.83 C412.25,453.08 413.16,454.97 413.89,456.47 C414.62,457.96 415.72,458.13 416.55,459.79 C417.38,461.45 418.57,467.04 419.43,467.54 C420.29,468.03 421.54,464.1 422.31,463.11 C423.07,462.11 423.86,460.56 424.52,460.89 C425.18,461.23 426.17,467.31 426.73,465.32 C427.3,463.33 427.72,455.32 428.28,447.61 C428.85,439.91 429.9,415.63 430.5,413.97 C431.09,412.31 431.7,429.01 432.27,436.54 C432.83,444.08 433.53,461.89 434.26,464.21 C434.99,466.54 436.21,456.19 437.14,452.04 C438.07,447.89 439.63,438.2 440.46,436.54 C441.29,434.88 442.01,437.65 442.67,440.97 C443.34,444.29 444.22,454.7 444.88,458.68 C445.55,462.67 446.37,466.87 447.1,467.54 C447.83,468.2 448.92,464.1 449.75,463.11 C450.58,462.11 451.97,460.73 452.63,460.89 C453.3,461.06 453.52,466.87 454.18,464.21 C454.85,461.56 456.2,448.4 457.06,443.19 C457.92,437.97 459.17,429.79 459.94,429.46 C460.7,429.13 461.42,435.43 462.15,440.97 C462.88,446.52 464.24,462.28 464.81,466.43 C465.37,470.58 465.42,471.8 465.91,468.64 C466.41,465.49 467.56,451.38 468.13,445.4 C468.69,439.42 469.25,430.13 469.68,428.8 C470.11,427.47 470.57,431.07 471.01,436.54 C471.44,442.02 471.99,462.33 472.56,465.32 C473.12,468.31 474.1,458.39 474.77,456.47 C475.43,454.54 476.32,452.88 476.98,452.48 C477.65,452.08 478.53,453.05 479.2,453.81 C479.86,454.57 480.65,456.84 481.41,457.57 C482.17,458.3 483.46,458.35 484.29,458.68 C485.12,459.01 486.05,459.95 486.94,459.79 C487.84,459.62 489.43,457.81 490.26,457.57 C491.09,457.34 491.71,457.74 492.48,458.24 C493.24,458.74 494.53,460 495.36,460.89 C496.19,461.79 497.21,463.38 498.01,464.21 C498.81,465.04 499.84,466.53 500.67,466.43 C501.5,466.33 502.62,464.38 503.55,463.55 C504.48,462.72 505.87,461.13 506.87,460.89 C507.86,460.66 509.19,461.74 510.19,462 C511.18,462.27 512.51,462.83 513.51,462.67 C514.5,462.5 515.83,461.49 516.83,460.89 C517.82,460.3 519.65,459.01 520.15,458.68" fill="none" stroke="#404040" stroke-width="1.9" stroke-linejoin="round" stroke-linecap="round"/>
<path d="M310.96,399.36 C311.29,399.95 312.51,403.14 313.17,403.34 C313.84,403.54 314.82,400.85 315.39,400.68 C315.95,400.52 316.37,401.44 316.94,402.23 C317.5,403.03 318.49,406.33 319.15,406 C319.82,405.66 320.77,401.58 321.37,400.02 C321.96,398.46 322.54,396.02 323.14,395.59 C323.73,395.16 324.69,396.64 325.35,397.14 C326.01,397.64 326.9,398.71 327.56,398.91 C328.23,399.11 329.11,398.14 329.78,398.47 C330.44,398.8 331.33,400.23 331.99,401.13 C332.65,402.02 333.54,403.62 334.2,404.45 C334.87,405.28 335.82,406.23 336.42,406.66 C337.02,407.09 337.69,409.48 338.19,407.32 C338.69,405.17 339.27,398.02 339.74,392.27 C340.2,386.53 340.79,369.03 341.29,369.03 C341.79,369.03 342.56,387.62 343.06,392.27 C343.56,396.92 344.04,400.52 344.61,400.02 C345.17,399.52 346.22,389.12 346.82,388.95 C347.42,388.79 348,396.69 348.59,398.91 C349.19,401.14 350.04,403.05 350.81,403.78 C351.57,404.51 352.85,403.85 353.68,403.78 C354.51,403.72 355.54,403.01 356.34,403.34 C357.14,403.67 358.27,405.5 359,406 C359.73,406.49 360.55,407.72 361.21,406.66 C361.87,405.6 362.76,401.14 363.42,398.91 C364.09,396.69 364.97,391.5 365.64,391.83 C366.3,392.16 367.19,399 367.85,401.13 C368.52,403.25 369.3,405 370.06,406 C370.83,406.99 372.08,407.77 372.94,407.77 C373.81,407.77 374.99,406.99 375.82,406 C376.65,405 377.68,402.02 378.48,401.13 C379.27,400.23 380.4,400.29 381.13,400.02 C381.86,399.75 382.68,400.35 383.35,399.36 C384.01,398.36 384.9,393.11 385.56,393.38 C386.22,393.64 387.11,399.8 387.77,401.13 C388.44,402.45 389.32,401.84 389.99,402.23 C390.65,402.63 391.54,403.22 392.2,403.78 C392.86,404.35 393.75,405.57 394.41,406 C395.08,406.43 396.03,407.23 396.63,406.66 C397.23,406.1 397.87,402.57 398.4,402.23 C398.93,401.9 399.57,403.95 400.17,404.45 C400.77,404.95 401.65,405.32 402.38,405.55 C403.11,405.79 404.31,406.16 405.04,406 C405.77,405.83 406.49,408.76 407.25,404.45 C408.02,400.13 409.4,379.38 410.13,377.22 C410.86,375.06 411.56,386.47 412.12,390.06 C412.69,393.64 413.3,399.47 413.89,401.13 C414.49,402.79 415.38,400.63 416.11,401.13 C416.84,401.62 417.93,403.52 418.76,404.45 C419.59,405.38 420.88,407.32 421.64,407.32 C422.41,407.32 423.19,404.55 423.86,404.45 C424.52,404.35 425.41,406.33 426.07,406.66 C426.73,406.99 427.78,409.48 428.28,406.66 C428.78,403.84 428.96,395.65 429.39,387.85 C429.82,380.04 430.63,355.64 431.16,354.64 C431.69,353.64 432.37,374.07 432.93,381.2 C433.5,388.34 434.29,399.31 434.92,402.23 C435.55,405.16 436.47,404.17 437.14,400.68 C437.8,397.2 438.59,382.98 439.35,378.99 C440.11,375.01 441.56,374.12 442.23,374.12 C442.89,374.12 443.31,376.27 443.78,378.99 C444.24,381.71 444.76,389.28 445.33,392.27 C445.89,395.26 446.88,397.65 447.54,398.91 C448.21,400.17 449.16,400.52 449.75,400.68 C450.35,400.85 450.99,399.12 451.53,400.02 C452.06,400.92 452.73,405.23 453.3,406.66 C453.86,408.09 454.56,411.7 455.29,409.54 C456.02,407.38 457.24,397.02 458.17,392.27 C459.1,387.52 460.66,378.22 461.49,377.88 C462.32,377.55 463.04,385.84 463.7,390.06 C464.36,394.28 465.25,405.5 465.91,406 C466.58,406.49 467.56,397.36 468.13,393.38 C468.69,389.39 469.25,380.6 469.68,379.43 C470.11,378.27 470.57,381.65 471.01,385.63 C471.44,389.62 471.99,404.67 472.56,406 C473.12,407.32 474.1,397.94 474.77,394.49 C475.43,391.03 476.32,383.81 476.98,382.98 C477.65,382.14 478.53,388.06 479.2,388.95 C479.86,389.85 480.75,387.96 481.41,388.95 C482.07,389.95 482.96,393.43 483.62,395.59 C484.29,397.75 485.07,402.34 485.84,403.34 C486.6,404.34 487.88,402.4 488.71,402.23 C489.54,402.07 490.57,401.9 491.37,402.23 C492.17,402.57 493.2,403.78 494.03,404.45 C494.86,405.11 496.14,406.23 496.9,406.66 C497.67,407.09 498.29,407.42 499.12,407.32 C499.95,407.23 501.44,406.66 502.44,406 C503.43,405.33 504.76,403.63 505.76,402.9 C506.76,402.17 508.08,401.33 509.08,401.13 C510.08,400.93 511.4,401.17 512.4,401.57 C513.4,401.97 514.56,403.02 515.72,403.78 C516.88,404.55 519.48,406.23 520.15,406.66" fill="none" stroke="#0068b7" stroke-width="2.2" stroke-linejoin="round" stroke-linecap="round"/>
<path d="M555.96,460.89 C556.29,461.06 557.51,461.93 558.17,462 C558.84,462.07 559.62,461.17 560.39,461.34 C561.15,461.5 562.5,463.84 563.27,463.11 C564.03,462.38 564.82,458.19 565.48,456.47 C566.14,454.74 566.96,452.1 567.69,451.6 C568.42,451.1 569.55,452.58 570.35,453.15 C571.15,453.71 572.28,454.7 573.01,455.36 C573.74,456.02 574.56,456.41 575.22,457.57 C575.88,458.74 576.77,461.68 577.43,463.11 C578.1,464.54 579.05,466.76 579.65,467.09 C580.24,467.42 580.82,469.9 581.42,465.32 C582.02,460.74 583.03,444.25 583.63,436.54 C584.23,428.84 584.87,413.97 585.4,413.97 C585.93,413.97 586.61,430.83 587.17,436.54 C587.74,442.26 588.53,450.21 589.17,452.04 C589.8,453.87 590.81,447.39 591.38,448.72 C591.94,450.05 592.36,458.74 592.93,460.89 C593.49,463.05 594.38,463.27 595.14,463.11 C595.91,462.94 597.26,459.95 598.02,459.79 C598.78,459.62 599.47,461.34 600.23,462 C601,462.67 602.28,464.38 603.11,464.21 C603.94,464.05 605.04,462.72 605.77,460.89 C606.5,459.07 607.38,453.87 607.98,452.04 C608.58,450.21 609.15,448.06 609.75,448.72 C610.35,449.38 611.24,454.31 611.97,456.47 C612.7,458.63 613.83,462.11 614.62,463.11 C615.42,464.1 616.45,463.44 617.28,463.11 C618.11,462.78 619.29,461.82 620.16,460.89 C621.02,459.96 622.27,457.08 623.03,456.91 C623.8,456.74 624.58,458.92 625.25,459.79 C625.91,460.65 626.8,462.83 627.46,462.67 C628.13,462.5 629.01,459.34 629.67,458.68 C630.34,458.02 631.16,460.4 631.89,458.24 C632.62,456.08 633.88,444.89 634.54,444.29 C635.21,443.69 635.82,451.43 636.32,454.25 C636.81,457.08 637.2,461.61 637.86,463.11 C638.53,464.6 639.91,464.38 640.74,464.21 C641.57,464.05 642.6,462.23 643.4,462 C644.2,461.77 645.23,462.5 646.06,462.67 C646.89,462.83 648,464.7 648.93,463.11 C649.86,461.51 651.42,455.63 652.25,452.04 C653.08,448.45 653.8,438.87 654.47,439.2 C655.13,439.53 656.02,451.5 656.68,454.25 C657.34,457.01 658.16,456.58 658.89,457.57 C659.62,458.57 660.72,459.73 661.55,460.89 C662.38,462.06 663.57,465.49 664.43,465.32 C665.29,465.16 666.54,460.29 667.31,459.79 C668.07,459.29 668.86,461.17 669.52,462 C670.18,462.83 671.17,468.14 671.73,465.32 C672.3,462.5 672.82,449.66 673.28,443.19 C673.75,436.71 674.33,423.15 674.83,422.16 C675.33,421.16 676.01,430.07 676.6,436.54 C677.2,443.02 678.09,463.33 678.82,465.32 C679.55,467.31 680.54,454.97 681.47,449.83 C682.4,444.68 684.15,433 685.01,431.01 C685.88,429.02 686.56,432.39 687.23,436.54 C687.89,440.7 688.78,454.36 689.44,458.68 C690.11,463 690.93,464.66 691.66,465.32 C692.39,465.99 693.58,464.27 694.31,463.11 C695.04,461.95 695.93,457.41 696.53,457.57 C697.12,457.74 697.63,465.38 698.3,464.21 C698.96,463.05 699.96,455.47 700.95,449.83 C701.95,444.18 704.01,428.58 704.94,426.58 C705.87,424.59 706.42,430.4 707.15,436.54 C707.88,442.69 709.14,463.55 709.81,467.54 C710.47,471.52 711.01,467.16 711.58,463.11 C712.14,459.06 713.01,442.85 713.57,440.53 C714.14,438.2 714.84,444.23 715.34,447.61 C715.84,451 716.33,462.28 716.89,463.11 C717.46,463.94 718.44,455.4 719.1,453.15 C719.77,450.89 720.55,447.39 721.32,448.06 C722.08,448.72 723.43,455.98 724.2,457.57 C724.96,459.17 725.65,458.18 726.41,458.68 C727.17,459.18 728.46,460.89 729.29,460.89 C730.12,460.89 731.05,459.84 731.94,458.68 C732.84,457.52 734.43,453.48 735.26,453.15 C736.09,452.81 736.71,455.14 737.48,456.47 C738.24,457.8 739.53,460.84 740.36,462 C741.19,463.16 742.12,463.72 743.01,464.21 C743.91,464.71 745.4,465.49 746.33,465.32 C747.26,465.16 748.31,463.94 749.21,463.11 C750.11,462.28 751.41,460.05 752.31,459.79 C753.21,459.52 754.32,461 755.19,461.34 C756.05,461.67 757.17,462.07 758.06,462 C758.96,461.93 760.17,461.39 761.16,460.89 C762.16,460.4 764.17,459.01 764.71,458.68" fill="none" stroke="#404040" stroke-width="1.9" stroke-linejoin="round" stroke-linecap="round"/>
<path d="M555.96,399.36 C556.29,399.79 557.51,402.03 558.17,402.23 C558.84,402.43 559.82,400.58 560.39,400.68 C560.95,400.78 561.37,402 561.94,402.9 C562.5,403.79 563.49,406.93 564.15,406.66 C564.82,406.4 565.77,402.55 566.37,401.13 C566.96,399.7 567.54,397.47 568.14,397.14 C568.73,396.81 569.62,398.48 570.35,398.91 C571.08,399.34 572.28,399.69 573.01,400.02 C573.74,400.35 574.46,400.46 575.22,401.13 C575.98,401.79 577.23,403.45 578.1,404.45 C578.96,405.44 580.31,408.1 580.98,407.77 C581.64,407.44 582.06,406.22 582.52,402.23 C582.99,398.25 583.58,388.34 584.07,381.2 C584.57,374.07 585.31,354.64 585.85,354.64 C586.38,354.64 587.12,374.56 587.62,381.2 C588.11,387.85 588.6,397.65 589.17,398.91 C589.73,400.17 590.78,389.45 591.38,389.62 C591.98,389.78 592.49,397.63 593.15,400.02 C593.81,402.41 594.98,404.66 595.81,405.55 C596.64,406.45 597.85,406.06 598.68,406 C599.51,405.93 600.54,404.91 601.34,405.11 C602.14,405.31 603.17,407.42 604,407.32 C604.83,407.23 606.01,406.64 606.87,404.45 C607.74,402.26 608.99,393.05 609.75,392.71 C610.52,392.38 611.24,400.24 611.97,402.23 C612.7,404.23 613.83,405.17 614.62,406 C615.42,406.83 616.45,407.57 617.28,407.77 C618.11,407.97 619.29,408.25 620.16,407.32 C621.02,406.4 622.2,402.57 623.03,401.57 C623.86,400.57 624.96,401.08 625.69,400.68 C626.42,400.29 627.24,399.78 627.9,398.91 C628.57,398.05 629.45,394.6 630.12,394.93 C630.78,395.26 631.67,400.13 632.33,401.13 C633,402.12 633.88,401.07 634.54,401.57 C635.21,402.07 636.03,403.52 636.76,404.45 C637.49,405.38 638.58,407.87 639.41,407.77 C640.24,407.67 641.53,404.05 642.29,403.78 C643.06,403.52 643.74,405.57 644.51,406 C645.27,406.43 646.55,406.66 647.38,406.66 C648.21,406.66 649.31,406.83 650.04,406 C650.77,405.17 651.59,404.51 652.25,401.13 C652.92,397.74 653.8,384.08 654.47,383.42 C655.13,382.75 656.02,393.88 656.68,396.7 C657.34,399.52 658.16,401.3 658.89,402.23 C659.62,403.16 660.72,402.33 661.55,402.9 C662.38,403.46 663.57,405.76 664.43,406 C665.29,406.23 666.54,404.35 667.31,404.45 C668.07,404.55 668.79,406.23 669.52,406.66 C670.25,407.09 671.51,410.15 672.18,407.32 C672.84,404.5 673.45,394.35 673.95,387.85 C674.44,381.34 675,364.27 675.5,363.94 C675.99,363.61 676.7,379.56 677.27,385.63 C677.83,391.71 678.63,402.79 679.26,404.45 C679.89,406.11 680.88,400.52 681.47,396.7 C682.07,392.88 682.65,382.91 683.24,378.99 C683.84,375.07 684.79,370.25 685.46,370.58 C686.12,370.91 687.01,377.29 687.67,381.2 C688.34,385.12 689.22,394.11 689.88,396.7 C690.55,399.29 691.43,398.07 692.1,398.47 C692.76,398.87 693.65,399.29 694.31,399.36 C694.98,399.42 695.93,397.98 696.53,398.91 C697.12,399.84 697.73,403.96 698.3,405.55 C698.86,407.15 699.62,411.53 700.29,409.54 C700.95,407.55 701.96,396.69 702.72,392.27 C703.49,387.86 704.65,380.43 705.38,380.1 C706.11,379.77 706.86,386.24 707.59,390.06 C708.32,393.88 709.59,404.72 710.25,405.55 C710.91,406.38 711.49,398.75 712.02,395.59 C712.55,392.44 713.29,385.02 713.79,384.52 C714.29,384.03 714.84,389.05 715.34,392.27 C715.84,395.49 716.55,405.66 717.11,406 C717.68,406.33 718.54,397.14 719.1,394.49 C719.67,391.83 720.28,388.45 720.88,388.29 C721.47,388.12 722.43,392.62 723.09,393.38 C723.75,394.14 724.64,392.88 725.3,393.38 C725.97,393.88 726.79,394.81 727.52,396.7 C728.25,398.59 729.34,405.07 730.17,406 C731,406.93 732.19,403.46 733.05,402.9 C733.91,402.33 735.1,402 735.93,402.23 C736.76,402.47 737.69,403.68 738.58,404.45 C739.48,405.21 740.98,406.83 741.9,407.32 C742.83,407.82 743.95,407.97 744.78,407.77 C745.61,407.57 746.54,406.66 747.44,406 C748.34,405.33 749.76,404 750.76,403.34 C751.76,402.68 753.08,401.74 754.08,401.57 C755.08,401.4 756.4,401.8 757.4,402.23 C758.4,402.67 759.62,403.78 760.72,404.45 C761.82,405.11 764.11,406.33 764.71,406.66" fill="none" stroke="#0068b7" stroke-width="2.2" stroke-linejoin="round" stroke-linecap="round"/>
<path d="M800.96,456.91 C801.29,457.34 802.51,458.86 803.17,459.79 C803.84,460.72 804.72,462.28 805.39,463.11 C806.05,463.94 806.84,465.82 807.6,465.32 C808.37,464.82 809.65,461.12 810.48,459.79 C811.31,458.46 812.41,456.8 813.14,456.47 C813.87,456.14 814.69,457.08 815.35,457.57 C816.01,458.07 816.9,459.12 817.56,459.79 C818.23,460.45 819.11,461.5 819.78,462 C820.44,462.5 821.39,462.78 821.99,463.11 C822.59,463.44 823.16,464.21 823.76,464.21 C824.36,464.21 825.31,462.78 825.98,463.11 C826.64,463.44 827.62,467.76 828.19,466.43 C828.75,465.1 829.27,457.67 829.74,454.25 C830.2,450.83 830.79,442.96 831.29,443.63 C831.79,444.29 832.46,456.02 833.06,458.68 C833.66,461.34 834.61,460.67 835.27,461.34 C835.94,462 836.82,462.34 837.49,463.11 C838.15,463.87 838.97,466.69 839.7,466.43 C840.43,466.16 841.63,462.5 842.36,461.34 C843.09,460.17 843.91,458.81 844.57,458.68 C845.23,458.55 846.12,459.85 846.78,460.45 C847.45,461.05 848.23,462.27 849,462.67 C849.76,463.06 851.11,463.21 851.87,463.11 C852.64,463.01 853.42,462.6 854.09,462 C854.75,461.4 855.64,458.79 856.3,459.12 C856.97,459.46 857.75,463.12 858.52,464.21 C859.28,465.31 860.56,466.43 861.39,466.43 C862.22,466.43 863.25,465.04 864.05,464.21 C864.85,463.38 865.98,461.89 866.71,460.89 C867.44,459.9 868.26,457.57 868.92,457.57 C869.58,457.57 870.47,460.06 871.13,460.89 C871.8,461.72 872.58,463.11 873.35,463.11 C874.11,463.11 875.46,461.89 876.22,460.89 C876.99,459.9 877.77,458.13 878.44,456.47 C879.1,454.81 880.09,449.16 880.65,449.83 C881.22,450.49 881.7,458.74 882.2,460.89 C882.7,463.05 883.37,463.72 883.97,464.21 C884.57,464.71 885.52,464.55 886.19,464.21 C886.85,463.88 887.8,462.17 888.4,462 C889,461.84 889.51,462.78 890.17,463.11 C890.83,463.44 892.03,464.05 892.83,464.21 C893.62,464.38 894.75,466.04 895.48,464.21 C896.21,462.39 897,456.46 897.7,452.04 C898.39,447.62 899.47,435.11 900.13,434.77 C900.8,434.44 901.56,446.07 902.12,449.83 C902.69,453.58 903.23,457.8 903.89,459.79 C904.56,461.78 905.72,462.28 906.55,463.11 C907.38,463.94 908.57,465.82 909.43,465.32 C910.29,464.82 911.54,460.45 912.31,459.79 C913.07,459.12 913.86,460.23 914.52,460.89 C915.18,461.56 916.17,466.21 916.73,464.21 C917.3,462.22 917.62,455.25 918.28,447.61 C918.95,439.98 920.46,414.96 921.16,413.3 C921.86,411.64 922.37,428.74 922.93,436.54 C923.5,444.35 924.29,461.5 924.92,465.32 C925.55,469.14 926.37,463.99 927.14,462 C927.9,460.01 929.18,454.46 930.01,452.04 C930.85,449.62 931.94,445.84 932.67,445.84 C933.4,445.84 934.22,449.45 934.88,452.04 C935.55,454.63 936.37,461.28 937.1,463.11 C937.83,464.93 938.92,464.05 939.75,464.21 C940.58,464.38 941.97,463.98 942.63,464.21 C943.3,464.45 943.52,468.25 944.18,465.76 C944.85,463.27 946.13,452.16 947.06,447.61 C947.99,443.06 949.55,436.1 950.38,435.44 C951.21,434.77 951.86,438.7 952.59,443.19 C953.32,447.67 954.75,461.5 955.25,465.32 C955.75,469.14 955.48,471.63 955.91,468.64 C956.35,465.65 957.53,452.94 958.13,445.4 C958.73,437.86 959.4,420.39 959.9,418.39 C960.4,416.4 960.95,425.08 961.45,432.12 C961.95,439.16 962.72,460.01 963.22,465.32 C963.72,470.63 964.2,468.03 964.77,467.54 C965.33,467.04 966.22,462.83 966.98,462 C967.75,461.17 969.03,462.1 969.86,462 C970.69,461.9 971.62,461.5 972.52,461.34 C973.41,461.17 974.84,461.62 975.84,460.89 C976.83,460.16 978.26,457.3 979.16,456.47 C980.05,455.64 980.98,455.03 981.81,455.36 C982.64,455.69 983.83,457.52 984.69,458.68 C985.55,459.84 986.67,462.11 987.57,463.11 C988.47,464.1 989.67,465.16 990.67,465.32 C991.66,465.49 993.11,464.71 994.21,464.21 C995.31,463.72 996.91,462.23 997.97,462 C999.04,461.77 1000.3,462.5 1001.29,462.67 C1002.29,462.83 1003.62,463.31 1004.61,463.11 C1005.61,462.91 1007.1,461.67 1007.93,461.34 C1008.76,461 1009.82,460.96 1010.15,460.89" fill="none" stroke="#404040" stroke-width="1.9" stroke-linejoin="round" stroke-linecap="round"/>
<path d="M800.96,402.23 C801.29,402.9 802.51,406.49 803.17,406.66 C803.84,406.83 804.72,403.51 805.39,403.34 C806.05,403.17 806.94,405.16 807.6,405.55 C808.27,405.95 809.15,406.83 809.82,406 C810.48,405.17 811.46,401.48 812.03,400.02 C812.59,398.56 813.01,396.49 813.58,396.26 C814.14,396.02 815.19,397.81 815.79,398.47 C816.39,399.13 816.97,400.62 817.56,400.68 C818.16,400.75 819.11,398.68 819.78,398.91 C820.44,399.15 821.33,401.17 821.99,402.23 C822.65,403.3 823.54,405.17 824.2,406 C824.87,406.83 825.82,407.57 826.42,407.77 C827.02,407.97 827.69,408.65 828.19,407.32 C828.69,406 829.27,401.77 829.74,398.91 C830.2,396.06 830.79,388.12 831.29,388.29 C831.79,388.45 832.53,398.92 833.06,400.02 C833.59,401.12 834.33,396.69 834.83,395.59 C835.33,394.5 835.91,392.05 836.38,392.71 C836.84,393.38 837.36,398.43 837.93,400.02 C838.49,401.61 839.38,403.01 840.14,403.34 C840.91,403.67 842.16,402.07 843.02,402.23 C843.88,402.4 845,403.68 845.9,404.45 C846.79,405.21 848.2,406.99 849,407.32 C849.79,407.66 850.55,407.92 851.21,406.66 C851.87,405.4 852.76,400.74 853.42,398.91 C854.09,397.09 854.97,393.99 855.64,394.49 C856.3,394.98 857.19,400.41 857.85,402.23 C858.52,404.06 859.3,405.76 860.06,406.66 C860.83,407.56 862.08,407.98 862.94,408.21 C863.81,408.44 864.99,408.77 865.82,408.21 C866.65,407.65 867.68,405.51 868.48,404.45 C869.27,403.38 870.4,401.79 871.13,401.13 C871.86,400.46 872.68,401.02 873.35,400.02 C874.01,399.02 874.9,394.15 875.56,394.49 C876.22,394.82 877.11,400.91 877.77,402.23 C878.44,403.56 879.32,402.78 879.99,403.34 C880.65,403.9 881.54,405.4 882.2,406 C882.86,406.59 883.75,407.32 884.41,407.32 C885.08,407.32 886.03,406.59 886.63,406 C887.23,405.4 887.87,403.24 888.4,403.34 C888.93,403.44 889.51,406.06 890.17,406.66 C890.83,407.26 892.03,407.23 892.83,407.32 C893.62,407.42 894.82,408.09 895.48,407.32 C896.15,406.56 896.56,406.75 897.25,402.23 C897.95,397.72 899.4,378.71 900.13,377.22 C900.86,375.73 901.56,388.69 902.12,392.27 C902.69,395.86 903.3,399.63 903.89,401.13 C904.49,402.62 905.44,401.64 906.11,402.23 C906.77,402.83 907.66,404.21 908.32,405.11 C908.99,406.01 909.87,408.21 910.54,408.21 C911.2,408.21 912.08,405.34 912.75,405.11 C913.41,404.88 914.3,406.33 914.96,406.66 C915.63,406.99 916.58,410.15 917.18,407.32 C917.77,404.5 918.35,395.81 918.95,387.85 C919.54,379.88 920.56,355.53 921.16,354.2 C921.76,352.87 922.37,371.62 922.93,378.99 C923.5,386.36 924.29,399.69 924.92,403.34 C925.55,406.99 926.47,405.33 927.14,403.34 C927.8,401.35 928.79,392.88 929.35,390.06 C929.92,387.24 930.34,385.79 930.9,384.52 C931.46,383.26 932.52,380.98 933.11,381.65 C933.71,382.31 934.29,386.2 934.88,388.95 C935.48,391.71 936.43,398.26 937.1,400.02 C937.76,401.78 938.65,400.52 939.31,400.68 C939.98,400.85 940.93,400.46 941.53,401.13 C942.12,401.79 942.73,403.85 943.3,405.11 C943.86,406.37 944.56,411.46 945.29,409.54 C946.02,407.61 947.24,396.46 948.17,392.27 C949.1,388.09 950.66,381.98 951.49,381.65 C952.32,381.31 953.04,386.21 953.7,390.06 C954.36,393.91 955.25,407.16 955.91,407.32 C956.58,407.49 957.56,395.15 958.13,391.17 C958.69,387.18 959.25,381.26 959.68,380.76 C960.11,380.26 960.57,384.06 961.01,387.85 C961.44,391.63 961.99,405 962.56,406 C963.12,406.99 964.1,398.04 964.77,394.49 C965.43,390.93 966.32,383.14 966.98,382.31 C967.65,381.48 968.53,387.96 969.2,388.95 C969.86,389.95 970.75,387.96 971.41,388.95 C972.07,389.95 972.96,393.04 973.62,395.59 C974.29,398.15 975.07,404.9 975.84,406 C976.6,407.09 977.88,403.36 978.71,402.9 C979.54,402.43 980.57,402.67 981.37,402.9 C982.17,403.13 983.2,403.88 984.03,404.45 C984.86,405.01 986.04,406.16 986.9,406.66 C987.77,407.16 988.95,407.87 989.78,407.77 C990.61,407.67 991.54,406.66 992.44,406 C993.34,405.33 994.76,404 995.76,403.34 C996.76,402.68 998.08,401.74 999.08,401.57 C1000.08,401.4 1001.4,401.8 1002.4,402.23 C1003.4,402.67 1004.56,403.55 1005.72,404.45 C1006.88,405.34 1009.48,407.65 1010.15,408.21" fill="none" stroke="#0068b7" stroke-width="2.2" stroke-linejoin="round" stroke-linecap="round"/>
<text x="14.4" y="554.7" font-size="22.95" fill="#231815" textLength="25" lengthAdjust="spacingAndGlyphs">(c)</text>
<text x="95.4" y="570.9" font-size="15.1" fill="#231815" textLength="151.5" lengthAdjust="spacingAndGlyphs">Fitting versus Original</text>
<rect x="58" y="578" width="229.3" height="280" fill="none" stroke="#000" stroke-width="1.3"/>
<line x1="54.6" y1="591.9" x2="58" y2="591.9" stroke="#000" stroke-width="1.3"/>
<text x="52.2" y="597.2" font-size="15.3" fill="#111" text-anchor="end" textLength="29.19" lengthAdjust="spacingAndGlyphs">0.96</text>
<line x1="54.6" y1="660.9" x2="58" y2="660.9" stroke="#000" stroke-width="1.3"/>
<text x="52.2" y="666.2" font-size="15.3" fill="#111" text-anchor="end" textLength="29.19" lengthAdjust="spacingAndGlyphs">0.92</text>
<line x1="54.6" y1="729.9" x2="58" y2="729.9" stroke="#000" stroke-width="1.3"/>
<text x="52.2" y="735.2" font-size="15.3" fill="#111" text-anchor="end" textLength="29.19" lengthAdjust="spacingAndGlyphs">0.88</text>
<line x1="54.6" y1="798.9" x2="58" y2="798.9" stroke="#000" stroke-width="1.3"/>
<text x="52.2" y="804.2" font-size="15.3" fill="#111" text-anchor="end" textLength="29.19" lengthAdjust="spacingAndGlyphs">0.84</text>
<text transform="translate(17.6,761) rotate(-90)" font-size="15" fill="#231815" textLength="113" lengthAdjust="spacingAndGlyphs">Cosine similarity</text>
<line x1="74.2" y1="858" x2="74.2" y2="861" stroke="#000" stroke-width="1.3"/>
<text transform="translate(84.2,870.5) rotate(-45)" font-size="15.2" fill="#231815" text-anchor="end">ABA</text>
<line x1="102.14" y1="858" x2="102.14" y2="861" stroke="#000" stroke-width="1.3"/>
<text transform="translate(112.14,870.5) rotate(-45)" font-size="15.2" fill="#231815" text-anchor="end">ECO</text>
<line x1="130.08" y1="858" x2="130.08" y2="861" stroke="#000" stroke-width="1.3"/>
<text transform="translate(140.08,870.5) rotate(-45)" font-size="15.2" fill="#231815" text-anchor="end">KPN</text>
<line x1="158.02" y1="858" x2="158.02" y2="861" stroke="#000" stroke-width="1.3"/>
<text transform="translate(168.02,870.5) rotate(-45)" font-size="15.2" fill="#231815" text-anchor="end">PAE</text>
<line x1="185.96" y1="858" x2="185.96" y2="861" stroke="#000" stroke-width="1.3"/>
<text transform="translate(195.96,870.5) rotate(-45)" font-size="15.2" fill="#231815" text-anchor="end">SAU</text>
<line x1="213.9" y1="858" x2="213.9" y2="861" stroke="#000" stroke-width="1.3"/>
<text transform="translate(223.9,870.5) rotate(-45)" font-size="15.2" fill="#231815" text-anchor="end">EFM</text>
<line x1="241.84" y1="858" x2="241.84" y2="861" stroke="#000" stroke-width="1.3"/>
<text transform="translate(251.84,870.5) rotate(-45)" font-size="15.2" fill="#231815" text-anchor="end">EFS</text>
<line x1="269.78" y1="858" x2="269.78" y2="861" stroke="#000" stroke-width="1.3"/>
<text transform="translate(279.78,870.5) rotate(-45)" font-size="15.2" fill="#231815" text-anchor="end">SCA</text>
<line x1="74" y1="697.1" x2="74" y2="717.2" stroke="#0068b7" stroke-width="1.5"/>
<line x1="74" y1="746.1" x2="74" y2="773.6" stroke="#0068b7" stroke-width="1.5"/>
<rect x="64.5" y="717.2" width="20" height="28.9" fill="none" stroke="#0068b7" stroke-width="1.1"/>
<line x1="64.5" y1="736.9" x2="84.5" y2="736.9" stroke="#0068b7" stroke-width="1.4"/>
<circle cx="75.7" cy="697.5" r="2.5" fill="#0068b7"/>
<circle cx="64.3" cy="715.2" r="2.5" fill="#0068b7"/>
<circle cx="68.3" cy="722.7" r="2.5" fill="#0068b7"/>
<circle cx="79.7" cy="728.6" r="2.5" fill="#0068b7"/>
<circle cx="63.5" cy="746.1" r="2.5" fill="#0068b7"/>
<circle cx="67.9" cy="745.1" r="2.5" fill="#0068b7"/>
<circle cx="78.4" cy="744.4" r="2.5" fill="#0068b7"/>
<circle cx="83.2" cy="769.4" r="2.5" fill="#0068b7"/>
<circle cx="80.3" cy="773.6" r="2.5" fill="#0068b7"/>
<circle cx="67.2" cy="673.9" r="2.5" fill="#0068b7"/>
<line x1="102.2" y1="623.7" x2="102.2" y2="627.3" stroke="#0068b7" stroke-width="1.5"/>
<line x1="102.2" y1="645.1" x2="102.2" y2="649.3" stroke="#0068b7" stroke-width="1.5"/>
<rect x="92.4" y="627.3" width="19.8" height="17.8" fill="none" stroke="#0068b7" stroke-width="1.1"/>
<line x1="92.4" y1="635.9" x2="112.2" y2="635.9" stroke="#0068b7" stroke-width="1.4"/>
<circle cx="100.8" cy="623.7" r="2.5" fill="#0068b7"/>
<circle cx="100.8" cy="626.3" r="2.5" fill="#0068b7"/>
<circle cx="112.2" cy="626.9" r="2.5" fill="#0068b7"/>
<circle cx="108" cy="629.6" r="2.5" fill="#0068b7"/>
<circle cx="109.9" cy="631.5" r="2.5" fill="#0068b7"/>
<circle cx="110.3" cy="633.9" r="2.5" fill="#0068b7"/>
<circle cx="89.3" cy="639" r="2.5" fill="#0068b7"/>
<circle cx="88.2" cy="645.1" r="2.5" fill="#0068b7"/>
<circle cx="110.6" cy="644.7" r="2.5" fill="#0068b7"/>
<circle cx="99.8" cy="649.7" r="2.5" fill="#0068b7"/>
<circle cx="110.3" cy="650.2" r="2.5" fill="#0068b7"/>
<line x1="130" y1="616" x2="130" y2="624.3" stroke="#0068b7" stroke-width="1.5"/>
<line x1="130" y1="630.2" x2="130" y2="634.4" stroke="#0068b7" stroke-width="1.5"/>
<rect x="120.2" y="624.3" width="20.4" height="5.9" fill="none" stroke="#0068b7" stroke-width="1.1"/>
<line x1="120.2" y1="627" x2="140.6" y2="627" stroke="#0068b7" stroke-width="1.4"/>
<circle cx="117.5" cy="623.4" r="2.5" fill="#0068b7"/>
<circle cx="117.1" cy="630" r="2.5" fill="#0068b7"/>
<circle cx="127.7" cy="623.9" r="2.5" fill="#0068b7"/>
<circle cx="129.6" cy="629.2" r="2.5" fill="#0068b7"/>
<circle cx="131.6" cy="631.3" r="2.5" fill="#0068b7"/>
<circle cx="125.3" cy="634.8" r="2.5" fill="#0068b7"/>
<circle cx="141.5" cy="626.3" r="2.5" fill="#0068b7"/>
<circle cx="139.2" cy="630.9" r="2.5" fill="#0068b7"/>
<circle cx="143.2" cy="616.7" r="2.5" fill="#0068b7"/>
<circle cx="129" cy="631.5" r="2.5" fill="#0068b7"/>
<line x1="157.9" y1="744.4" x2="157.9" y2="762.5" stroke="#0068b7" stroke-width="1.5"/>
<line x1="157.9" y1="781" x2="157.9" y2="781" stroke="#0068b7" stroke-width="1.5"/>
<rect x="148.4" y="762.5" width="19.7" height="18.5" fill="none" stroke="#0068b7" stroke-width="1.1"/>
<line x1="148.4" y1="774.6" x2="168.1" y2="774.6" stroke="#0068b7" stroke-width="1.4"/>
<circle cx="156.8" cy="744.4" r="2.5" fill="#0068b7"/>
<circle cx="167.1" cy="753.6" r="2.5" fill="#0068b7"/>
<circle cx="169.3" cy="760.4" r="2.5" fill="#0068b7"/>
<circle cx="154.6" cy="769.6" r="2.5" fill="#0068b7"/>
<circle cx="161.2" cy="773.3" r="2.5" fill="#0068b7"/>
<circle cx="157.9" cy="777.9" r="2.5" fill="#0068b7"/>
<circle cx="155" cy="781.9" r="2.5" fill="#0068b7"/>
<circle cx="171" cy="781" r="2.5" fill="#0068b7"/>
<circle cx="150.5" cy="845.3" r="2.5" fill="#0068b7"/>
<line x1="186" y1="599.1" x2="186" y2="616.4" stroke="#0068b7" stroke-width="1.5"/>
<line x1="186" y1="629.3" x2="186" y2="638.5" stroke="#0068b7" stroke-width="1.5"/>
<rect x="176.3" y="616.4" width="20.4" height="12.9" fill="none" stroke="#0068b7" stroke-width="1.1"/>
<line x1="176.3" y1="621.4" x2="196.7" y2="621.4" stroke="#0068b7" stroke-width="1.4"/>
<circle cx="191.3" cy="599.7" r="2.5" fill="#0068b7"/>
<circle cx="198.7" cy="604.1" r="2.5" fill="#0068b7"/>
<circle cx="197.3" cy="614.8" r="2.5" fill="#0068b7"/>
<circle cx="193.7" cy="620.1" r="2.5" fill="#0068b7"/>
<circle cx="191" cy="621" r="2.5" fill="#0068b7"/>
<circle cx="183.1" cy="623.4" r="2.5" fill="#0068b7"/>
<circle cx="194.3" cy="627.1" r="2.5" fill="#0068b7"/>
<circle cx="176.6" cy="630" r="2.5" fill="#0068b7"/>
<circle cx="204.2" cy="624.4" r="2.5" fill="#0068b7"/>
<circle cx="194.7" cy="638.8" r="2.5" fill="#0068b7"/>
<circle cx="180.4" cy="669.4" r="2.5" fill="#0068b7"/>
<line x1="214" y1="624" x2="214" y2="653.3" stroke="#0068b7" stroke-width="1.5"/>
<line x1="214" y1="682.5" x2="214" y2="695.7" stroke="#0068b7" stroke-width="1.5"/>
<rect x="204.4" y="653.3" width="20.1" height="29.2" fill="none" stroke="#0068b7" stroke-width="1.1"/>
<line x1="204.4" y1="665.8" x2="224.5" y2="665.8" stroke="#0068b7" stroke-width="1.4"/>
<circle cx="203.8" cy="649" r="2.5" fill="#0068b7"/>
<circle cx="212.7" cy="652" r="2.5" fill="#0068b7"/>
<circle cx="206.5" cy="657.3" r="2.5" fill="#0068b7"/>
<circle cx="203.1" cy="659.3" r="2.5" fill="#0068b7"/>
<circle cx="204.4" cy="672.3" r="2.5" fill="#0068b7"/>
<circle cx="217.6" cy="675.6" r="2.5" fill="#0068b7"/>
<circle cx="219.7" cy="685.2" r="2.5" fill="#0068b7"/>
<circle cx="216.3" cy="695.7" r="2.5" fill="#0068b7"/>
<circle cx="201.5" cy="726.8" r="2.5" fill="#0068b7"/>
<line x1="242" y1="590.3" x2="242" y2="606.9" stroke="#0068b7" stroke-width="1.5"/>
<line x1="242" y1="645.1" x2="242" y2="662.2" stroke="#0068b7" stroke-width="1.5"/>
<rect x="232.4" y="606.9" width="20.1" height="38.2" fill="none" stroke="#0068b7" stroke-width="1.1"/>
<line x1="232.4" y1="632.6" x2="252.5" y2="632.6" stroke="#0068b7" stroke-width="1.4"/>
<circle cx="234.8" cy="590.5" r="2.5" fill="#0068b7"/>
<circle cx="237.3" cy="600" r="2.5" fill="#0068b7"/>
<circle cx="244.3" cy="600" r="2.5" fill="#0068b7"/>
<circle cx="238.3" cy="630.3" r="2.5" fill="#0068b7"/>
<circle cx="249.5" cy="628.4" r="2.5" fill="#0068b7"/>
<circle cx="255.4" cy="634.2" r="2.5" fill="#0068b7"/>
<circle cx="231.1" cy="642.4" r="2.5" fill="#0068b7"/>
<circle cx="239.3" cy="645.7" r="2.5" fill="#0068b7"/>
<circle cx="246.5" cy="647" r="2.5" fill="#0068b7"/>
<circle cx="243.2" cy="662.1" r="2.5" fill="#0068b7"/>
<circle cx="262.9" cy="624.7" r="2.5" fill="#0068b7"/>
<line x1="269.9" y1="663.1" x2="269.9" y2="676.6" stroke="#0068b7" stroke-width="1.5"/>
<line x1="269.9" y1="686.2" x2="269.9" y2="687.8" stroke="#0068b7" stroke-width="1.5"/>
<rect x="260.4" y="676.6" width="20" height="9.6" fill="none" stroke="#0068b7" stroke-width="1.1"/>
<line x1="260.4" y1="679.9" x2="280.4" y2="679.9" stroke="#0068b7" stroke-width="1.4"/>
<circle cx="262" cy="663.7" r="2.5" fill="#0068b7"/>
<circle cx="264" cy="680.2" r="2.5" fill="#0068b7"/>
<circle cx="281.7" cy="675.7" r="2.5" fill="#0068b7"/>
<circle cx="282.4" cy="677.9" r="2.5" fill="#0068b7"/>
<circle cx="284.4" cy="680.2" r="2.5" fill="#0068b7"/>
<circle cx="273.8" cy="688.4" r="2.5" fill="#0068b7"/>
<circle cx="269.5" cy="746.5" r="2.5" fill="#0068b7"/>
<circle cx="259.4" cy="765.6" r="2.5" fill="#0068b7"/>
<text x="13.5" y="0" font-size="1.02" fill="#231815" textLength="0" lengthAdjust="spacingAndGlyphs"></text>
<text x="321.8" y="554.8" font-size="22.95" fill="#231815" textLength="25.2" lengthAdjust="spacingAndGlyphs">(d)</text>
<text x="464.1" y="545.5" font-size="14.89" fill="#231815" textLength="108.7" lengthAdjust="spacingAndGlyphs">Random Forest</text>
<defs><linearGradient id="gd" x1="0" x2="1" y1="0" y2="0"><stop offset="0" stop-color="rgb(152,94,160)"/><stop offset="1" stop-color="#ffffff"/></linearGradient></defs>
<rect x="475.7" y="558" width="76.1" height="14.3" fill="url(#gd)"/>
<line x1="493.6" y1="558" x2="493.6" y2="560.3" stroke="#fff" stroke-width="1"/>
<line x1="513" y1="558" x2="513" y2="560.3" stroke="#fff" stroke-width="1"/>
<line x1="532.9" y1="558" x2="532.9" y2="560.3" stroke="#fff" stroke-width="1"/>
<text x="447" y="569.8" font-size="15.2" fill="#231815" textLength="24.86" lengthAdjust="spacingAndGlyphs">100</text>
<text x="558" y="569.8" font-size="15.2" fill="#231815" textLength="25.67" lengthAdjust="spacingAndGlyphs">0 %</text>
<defs><clipPath id="cd"><rect x="384.2" y="577.6" width="284.38" height="279.76"/></clipPath></defs>
<g clip-path="url(#cd)">
<rect x="383.3" y="576.6" width="35.96" height="35.32" fill="#a26fa8"/>
<rect x="418.96" y="576.6" width="35.96" height="35.32" fill="#f5f8fd"/>
<rect x="454.62" y="576.6" width="35.96" height="35.32" fill="#f5f8fd"/>
<rect x="490.28" y="576.6" width="35.96" height="35.32" fill="#f5f8fd"/>
<rect x="525.94" y="576.6" width="35.96" height="35.32" fill="#f5f8fd"/>
<rect x="561.6" y="576.6" width="35.96" height="35.32" fill="#f5f8fd"/>
<rect x="597.26" y="576.6" width="35.96" height="35.32" fill="#f5f8fd"/>
<rect x="632.92" y="576.6" width="35.96" height="35.32" fill="#f5f7fd"/>
<rect x="383.3" y="611.62" width="35.96" height="35.32" fill="#f5f8fd"/>
<rect x="418.96" y="611.62" width="35.96" height="35.32" fill="#a674ac"/>
<rect x="454.62" y="611.62" width="35.96" height="35.32" fill="#f5f8fd"/>
<rect x="490.28" y="611.62" width="35.96" height="35.32" fill="#f5f8fd"/>
<rect x="525.94" y="611.62" width="35.96" height="35.32" fill="#f5f8fd"/>
<rect x="561.6" y="611.62" width="35.96" height="35.32" fill="#f5f8fd"/>
<rect x="597.26" y="611.62" width="35.96" height="35.32" fill="#f3f5fb"/>
<rect x="632.92" y="611.62" width="35.96" height="35.32" fill="#f3f5fb"/>
<rect x="383.3" y="646.64" width="35.96" height="35.32" fill="#f5f8fd"/>
<rect x="418.96" y="646.64" width="35.96" height="35.32" fill="#f0f0f8"/>
<rect x="454.62" y="646.64" width="35.96" height="35.32" fill="#a97aaf"/>
<rect x="490.28" y="646.64" width="35.96" height="35.32" fill="#f4f7fc"/>
<rect x="525.94" y="646.64" width="35.96" height="35.32" fill="#f5f7fd"/>
<rect x="561.6" y="646.64" width="35.96" height="35.32" fill="#f5f8fd"/>
<rect x="597.26" y="646.64" width="35.96" height="35.32" fill="#f5f8fd"/>
<rect x="632.92" y="646.64" width="35.96" height="35.32" fill="#f4f6fc"/>
<rect x="383.3" y="681.66" width="35.96" height="35.32" fill="#f5f8fd"/>
<rect x="418.96" y="681.66" width="35.96" height="35.32" fill="#f5f8fd"/>
<rect x="454.62" y="681.66" width="35.96" height="35.32" fill="#f5f8fd"/>
<rect x="490.28" y="681.66" width="35.96" height="35.32" fill="#a878ae"/>
<rect x="525.94" y="681.66" width="35.96" height="35.32" fill="#f5f8fd"/>
<rect x="561.6" y="681.66" width="35.96" height="35.32" fill="#f4f7fc"/>
<rect x="597.26" y="681.66" width="35.96" height="35.32" fill="#f5f8fd"/>
<rect x="632.92" y="681.66" width="35.96" height="35.32" fill="#f0f0f8"/>
<rect x="383.3" y="716.68" width="35.96" height="35.32" fill="#f5f8fd"/>
<rect x="418.96" y="716.68" width="35.96" height="35.32" fill="#f5f8fd"/>
<rect x="454.62" y="716.68" width="35.96" height="35.32" fill="#eae6f2"/>
<rect x="490.28" y="716.68" width="35.96" height="35.32" fill="#f5f8fd"/>
<rect x="525.94" y="716.68" width="35.96" height="35.32" fill="#ad80b3"/>
<rect x="561.6" y="716.68" width="35.96" height="35.32" fill="#f5f8fd"/>
<rect x="597.26" y="716.68" width="35.96" height="35.32" fill="#f5f8fd"/>
<rect x="632.92" y="716.68" width="35.96" height="35.32" fill="#f5f8fd"/>
<rect x="383.3" y="751.7" width="35.96" height="35.32" fill="#f5f7fd"/>
<rect x="418.96" y="751.7" width="35.96" height="35.32" fill="#f5f8fd"/>
<rect x="454.62" y="751.7" width="35.96" height="35.32" fill="#f5f7fd"/>
<rect x="490.28" y="751.7" width="35.96" height="35.32" fill="#f5f8fd"/>
<rect x="525.94" y="751.7" width="35.96" height="35.32" fill="#f5f8fd"/>
<rect x="561.6" y="751.7" width="35.96" height="35.32" fill="#af83b5"/>
<rect x="597.26" y="751.7" width="35.96" height="35.32" fill="#f1f1f9"/>
<rect x="632.92" y="751.7" width="35.96" height="35.32" fill="#edebf5"/>
<rect x="383.3" y="786.72" width="35.96" height="35.32" fill="#f5f8fd"/>
<rect x="418.96" y="786.72" width="35.96" height="35.32" fill="#f5f8fd"/>
<rect x="454.62" y="786.72" width="35.96" height="35.32" fill="#f5f7fd"/>
<rect x="490.28" y="786.72" width="35.96" height="35.32" fill="#f5f8fd"/>
<rect x="525.94" y="786.72" width="35.96" height="35.32" fill="#f5f8fd"/>
<rect x="561.6" y="786.72" width="35.96" height="35.32" fill="#eeecf6"/>
<rect x="597.26" y="786.72" width="35.96" height="35.32" fill="#aa7cb0"/>
<rect x="632.92" y="786.72" width="35.96" height="35.32" fill="#f4f7fc"/>
<rect x="383.3" y="821.74" width="35.96" height="35.32" fill="#f5f8fd"/>
<rect x="418.96" y="821.74" width="35.96" height="35.32" fill="#f5f8fd"/>
<rect x="454.62" y="821.74" width="35.96" height="35.32" fill="#f5f8fd"/>
<rect x="490.28" y="821.74" width="35.96" height="35.32" fill="#f5f8fd"/>
<rect x="525.94" y="821.74" width="35.96" height="35.32" fill="#f5f8fd"/>
<rect x="561.6" y="821.74" width="35.96" height="35.32" fill="#f0eff7"/>
<rect x="597.26" y="821.74" width="35.96" height="35.32" fill="#f5f8fd"/>
<rect x="632.92" y="821.74" width="35.96" height="35.32" fill="#a777ae"/>
</g>
<text x="401.63" y="602.1" font-size="15.8" fill="#111" text-anchor="middle">99.5</text>
<text x="437.29" y="602.1" font-size="15.8" fill="#111" text-anchor="middle">0</text>
<text x="472.95" y="602.1" font-size="15.8" fill="#111" text-anchor="middle">0</text>
<text x="508.61" y="602.1" font-size="15.8" fill="#111" text-anchor="middle">0</text>
<text x="544.27" y="602.1" font-size="15.8" fill="#111" text-anchor="middle">0</text>
<text x="579.93" y="602.1" font-size="15.8" fill="#111" text-anchor="middle">0</text>
<text x="615.59" y="602.1" font-size="15.8" fill="#111" text-anchor="middle">0</text>
<text x="651.25" y="602.1" font-size="15.8" fill="#111" text-anchor="middle">0.5</text>
<text x="401.63" y="636.95" font-size="15.8" fill="#111" text-anchor="middle">0</text>
<text x="437.29" y="636.95" font-size="15.8" fill="#111" text-anchor="middle">95.5</text>
<text x="472.95" y="636.95" font-size="15.8" fill="#111" text-anchor="middle">0</text>
<text x="508.61" y="636.95" font-size="15.8" fill="#111" text-anchor="middle">0</text>
<text x="544.27" y="636.95" font-size="15.8" fill="#111" text-anchor="middle">0</text>
<text x="579.93" y="636.95" font-size="15.8" fill="#111" text-anchor="middle">0</text>
<text x="615.59" y="636.95" font-size="15.8" fill="#111" text-anchor="middle">2.5</text>
<text x="651.25" y="636.95" font-size="15.8" fill="#111" text-anchor="middle">2</text>
<text x="401.63" y="671.8" font-size="15.8" fill="#111" text-anchor="middle">0</text>
<text x="437.29" y="671.8" font-size="15.8" fill="#111" text-anchor="middle">5.5</text>
<text x="472.95" y="671.8" font-size="15.8" fill="#111" text-anchor="middle">91.5</text>
<text x="508.61" y="671.8" font-size="15.8" fill="#111" text-anchor="middle">1</text>
<text x="544.27" y="671.8" font-size="15.8" fill="#111" text-anchor="middle">0.5</text>
<text x="579.93" y="671.8" font-size="15.8" fill="#111" text-anchor="middle">0</text>
<text x="615.59" y="671.8" font-size="15.8" fill="#111" text-anchor="middle">0</text>
<text x="651.25" y="671.8" font-size="15.8" fill="#111" text-anchor="middle">1.5</text>
<text x="401.63" y="706.65" font-size="15.8" fill="#111" text-anchor="middle">0</text>
<text x="437.29" y="706.65" font-size="15.8" fill="#111" text-anchor="middle">0</text>
<text x="472.95" y="706.65" font-size="15.8" fill="#111" text-anchor="middle">0</text>
<text x="508.61" y="706.65" font-size="15.8" fill="#111" text-anchor="middle">93</text>
<text x="544.27" y="706.65" font-size="15.8" fill="#111" text-anchor="middle">0</text>
<text x="579.93" y="706.65" font-size="15.8" fill="#111" text-anchor="middle">1</text>
<text x="615.59" y="706.65" font-size="15.8" fill="#111" text-anchor="middle">0</text>
<text x="651.25" y="706.65" font-size="15.8" fill="#111" text-anchor="middle">6</text>
<text x="401.63" y="741.5" font-size="15.8" fill="#111" text-anchor="middle">0</text>
<text x="437.29" y="741.5" font-size="15.8" fill="#111" text-anchor="middle">0</text>
<text x="472.95" y="741.5" font-size="15.8" fill="#111" text-anchor="middle">13</text>
<text x="508.61" y="741.5" font-size="15.8" fill="#111" text-anchor="middle">0</text>
<text x="544.27" y="741.5" font-size="15.8" fill="#111" text-anchor="middle">87</text>
<text x="579.93" y="741.5" font-size="15.8" fill="#111" text-anchor="middle">0</text>
<text x="615.59" y="741.5" font-size="15.8" fill="#111" text-anchor="middle">0</text>
<text x="651.25" y="741.5" font-size="15.8" fill="#111" text-anchor="middle">0</text>
<text x="401.63" y="776.35" font-size="15.8" fill="#111" text-anchor="middle">0.5</text>
<text x="437.29" y="776.35" font-size="15.8" fill="#111" text-anchor="middle">0</text>
<text x="472.95" y="776.35" font-size="15.8" fill="#111" text-anchor="middle">0.5</text>
<text x="508.61" y="776.35" font-size="15.8" fill="#111" text-anchor="middle">0</text>
<text x="544.27" y="776.35" font-size="15.8" fill="#111" text-anchor="middle">0</text>
<text x="579.93" y="776.35" font-size="15.8" fill="#111" text-anchor="middle">84.5</text>
<text x="615.59" y="776.35" font-size="15.8" fill="#111" text-anchor="middle">5</text>
<text x="651.25" y="776.35" font-size="15.8" fill="#111" text-anchor="middle">9.5</text>
<text x="401.63" y="811.2" font-size="15.8" fill="#111" text-anchor="middle">0</text>
<text x="437.29" y="811.2" font-size="15.8" fill="#111" text-anchor="middle">0</text>
<text x="472.95" y="811.2" font-size="15.8" fill="#111" text-anchor="middle">0.5</text>
<text x="508.61" y="811.2" font-size="15.8" fill="#111" text-anchor="middle">0</text>
<text x="544.27" y="811.2" font-size="15.8" fill="#111" text-anchor="middle">0</text>
<text x="579.93" y="811.2" font-size="15.8" fill="#111" text-anchor="middle">8.5</text>
<text x="615.59" y="811.2" font-size="15.8" fill="#111" text-anchor="middle">90</text>
<text x="651.25" y="811.2" font-size="15.8" fill="#111" text-anchor="middle">1</text>
<text x="401.63" y="846.05" font-size="15.8" fill="#111" text-anchor="middle">0</text>
<text x="437.29" y="846.05" font-size="15.8" fill="#111" text-anchor="middle">0</text>
<text x="472.95" y="846.05" font-size="15.8" fill="#111" text-anchor="middle">0</text>
<text x="508.61" y="846.05" font-size="15.8" fill="#111" text-anchor="middle">0</text>
<text x="544.27" y="846.05" font-size="15.8" fill="#111" text-anchor="middle">0</text>
<text x="579.93" y="846.05" font-size="15.8" fill="#111" text-anchor="middle">6.5</text>
<text x="615.59" y="846.05" font-size="15.8" fill="#111" text-anchor="middle">0</text>
<text x="651.25" y="846.05" font-size="15.8" fill="#111" text-anchor="middle">93.5</text>
<rect x="384.2" y="577.6" width="284.38" height="279.76" fill="none" stroke="#231815" stroke-width="1.3"/>
<text x="381.6" y="601.8" font-size="15.71" fill="#1d2088" text-anchor="end" textLength="30.82" lengthAdjust="spacingAndGlyphs">ABA</text>
<text x="381.6" y="636.09" font-size="15.71" fill="#1d2088" text-anchor="end" textLength="33.37" lengthAdjust="spacingAndGlyphs">ECO</text>
<text x="381.6" y="670.38" font-size="15.71" fill="#1d2088" text-anchor="end" textLength="31.67" lengthAdjust="spacingAndGlyphs">KPN</text>
<text x="381.6" y="704.67" font-size="15.71" fill="#1d2088" text-anchor="end" textLength="29.67" lengthAdjust="spacingAndGlyphs">PAE</text>
<text x="381.6" y="738.96" font-size="15.71" fill="#c0392b" text-anchor="end" textLength="31.67" lengthAdjust="spacingAndGlyphs">SAU</text>
<text x="381.6" y="773.25" font-size="15.71" fill="#c0392b" text-anchor="end" textLength="32.51" lengthAdjust="spacingAndGlyphs">EFM</text>
<text x="381.6" y="807.54" font-size="15.71" fill="#c0392b" text-anchor="end" textLength="29.95" lengthAdjust="spacingAndGlyphs">EFS</text>
<text x="381.6" y="841.83" font-size="15.71" fill="#c0392b" text-anchor="end" textLength="31.67" lengthAdjust="spacingAndGlyphs">SCA</text>
<text transform="translate(410.63,868.26) rotate(-45)" font-size="15.4" fill="#1d2088" text-anchor="end">ABA</text>
<text transform="translate(446.29,868.26) rotate(-45)" font-size="15.4" fill="#1d2088" text-anchor="end">ECO</text>
<text transform="translate(481.95,868.26) rotate(-45)" font-size="15.4" fill="#1d2088" text-anchor="end">KPN</text>
<text transform="translate(517.61,868.26) rotate(-45)" font-size="15.4" fill="#1d2088" text-anchor="end">PAE</text>
<text transform="translate(553.27,868.26) rotate(-45)" font-size="15.4" fill="#c0392b" text-anchor="end">SAU</text>
<text transform="translate(588.93,868.26) rotate(-45)" font-size="15.4" fill="#c0392b" text-anchor="end">EFM</text>
<text transform="translate(624.59,868.26) rotate(-45)" font-size="15.4" fill="#c0392b" text-anchor="end">EFS</text>
<text transform="translate(660.25,868.26) rotate(-45)" font-size="15.4" fill="#c0392b" text-anchor="end">SCA</text>
<text transform="translate(341.4,738.6) rotate(-90)" font-size="15.2" fill="#231815" textLength="69.3" lengthAdjust="spacingAndGlyphs">True label</text>
<text x="450.8" y="905.1" font-size="14.89" fill="#231815" textLength="103.3" lengthAdjust="spacingAndGlyphs">Predicted label</text>
<text x="694" y="553.8" font-size="22.95" fill="#231815" textLength="25.6" lengthAdjust="spacingAndGlyphs">(e)</text>
<text x="782.6" y="545.5" font-size="14.89" fill="#231815" textLength="167.6" lengthAdjust="spacingAndGlyphs">Support Vector Machine</text>
<defs><linearGradient id="ge" x1="0" x2="1" y1="0" y2="0"><stop offset="0" stop-color="rgb(232,148,32)"/><stop offset="1" stop-color="#ffffff"/></linearGradient></defs>
<rect x="835" y="558.2" width="73.3" height="14.1" fill="url(#ge)"/>
<line x1="853.5" y1="558.2" x2="853.5" y2="560.5" stroke="#fff" stroke-width="1"/>
<line x1="871.6" y1="558.2" x2="871.6" y2="560.5" stroke="#fff" stroke-width="1"/>
<line x1="889.4" y1="558.2" x2="889.4" y2="560.5" stroke="#fff" stroke-width="1"/>
<text x="806.9" y="570.3" font-size="15.2" fill="#231815" textLength="24.86" lengthAdjust="spacingAndGlyphs">100</text>
<text x="911.4" y="570.3" font-size="15.2" fill="#231815" textLength="25.67" lengthAdjust="spacingAndGlyphs">0 %</text>
<defs><clipPath id="ce"><rect x="729.5" y="577.6" width="284.54" height="279.76"/></clipPath></defs>
<g clip-path="url(#ce)">
<rect x="728.6" y="576.6" width="35.98" height="35.32" fill="#e99823"/>
<rect x="764.28" y="576.6" width="35.98" height="35.32" fill="#f5f8fd"/>
<rect x="799.96" y="576.6" width="35.98" height="35.32" fill="#f5f8fd"/>
<rect x="835.64" y="576.6" width="35.98" height="35.32" fill="#f5f8fd"/>
<rect x="871.32" y="576.6" width="35.98" height="35.32" fill="#f5f8fd"/>
<rect x="907" y="576.6" width="35.98" height="35.32" fill="#f5f8fd"/>
<rect x="942.68" y="576.6" width="35.98" height="35.32" fill="#f5f8fd"/>
<rect x="978.36" y="576.6" width="35.98" height="35.32" fill="#f6f7fa"/>
<rect x="728.6" y="611.62" width="35.98" height="35.32" fill="#f5f8fd"/>
<rect x="764.28" y="611.62" width="35.98" height="35.32" fill="#ea9d2e"/>
<rect x="799.96" y="611.62" width="35.98" height="35.32" fill="#f5f8fd"/>
<rect x="835.64" y="611.62" width="35.98" height="35.32" fill="#f5f8fd"/>
<rect x="871.32" y="611.62" width="35.98" height="35.32" fill="#f5f8fd"/>
<rect x="907" y="611.62" width="35.98" height="35.32" fill="#f5f8fd"/>
<rect x="942.68" y="611.62" width="35.98" height="35.32" fill="#f7f4f1"/>
<rect x="978.36" y="611.62" width="35.98" height="35.32" fill="#f6f6f9"/>
<rect x="728.6" y="646.64" width="35.98" height="35.32" fill="#f5f8fd"/>
<rect x="764.28" y="646.64" width="35.98" height="35.32" fill="#f8f2ee"/>
<rect x="799.96" y="646.64" width="35.98" height="35.32" fill="#eba239"/>
<rect x="835.64" y="646.64" width="35.98" height="35.32" fill="#f5f8fc"/>
<rect x="871.32" y="646.64" width="35.98" height="35.32" fill="#f5f8fc"/>
<rect x="907" y="646.64" width="35.98" height="35.32" fill="#f5f8fd"/>
<rect x="942.68" y="646.64" width="35.98" height="35.32" fill="#f5f8fc"/>
<rect x="978.36" y="646.64" width="35.98" height="35.32" fill="#f7f4f4"/>
<rect x="728.6" y="681.66" width="35.98" height="35.32" fill="#f5f8fd"/>
<rect x="764.28" y="681.66" width="35.98" height="35.32" fill="#f5f8fd"/>
<rect x="799.96" y="681.66" width="35.98" height="35.32" fill="#f5f8fd"/>
<rect x="835.64" y="681.66" width="35.98" height="35.32" fill="#eba23a"/>
<rect x="871.32" y="681.66" width="35.98" height="35.32" fill="#f5f8fd"/>
<rect x="907" y="681.66" width="35.98" height="35.32" fill="#f5f8fd"/>
<rect x="942.68" y="681.66" width="35.98" height="35.32" fill="#f6f6f9"/>
<rect x="978.36" y="681.66" width="35.98" height="35.32" fill="#faeee3"/>
<rect x="728.6" y="716.68" width="35.98" height="35.32" fill="#f5f8fd"/>
<rect x="764.28" y="716.68" width="35.98" height="35.32" fill="#f5f8fd"/>
<rect x="799.96" y="716.68" width="35.98" height="35.32" fill="#fbecdf"/>
<rect x="835.64" y="716.68" width="35.98" height="35.32" fill="#f5f8fd"/>
<rect x="871.32" y="716.68" width="35.98" height="35.32" fill="#eba23a"/>
<rect x="907" y="716.68" width="35.98" height="35.32" fill="#f5f8fd"/>
<rect x="942.68" y="716.68" width="35.98" height="35.32" fill="#f5f8fd"/>
<rect x="978.36" y="716.68" width="35.98" height="35.32" fill="#f5f8fd"/>
<rect x="728.6" y="751.7" width="35.98" height="35.32" fill="#f5f8fd"/>
<rect x="764.28" y="751.7" width="35.98" height="35.32" fill="#f5f8fd"/>
<rect x="799.96" y="751.7" width="35.98" height="35.32" fill="#f5f8fd"/>
<rect x="835.64" y="751.7" width="35.98" height="35.32" fill="#f5f8fc"/>
<rect x="871.32" y="751.7" width="35.98" height="35.32" fill="#f5f8fd"/>
<rect x="907" y="751.7" width="35.98" height="35.32" fill="#eda848"/>
<rect x="942.68" y="751.7" width="35.98" height="35.32" fill="#f7f4f1"/>
<rect x="978.36" y="751.7" width="35.98" height="35.32" fill="#fbebdc"/>
<rect x="728.6" y="786.72" width="35.98" height="35.32" fill="#f5f8fd"/>
<rect x="764.28" y="786.72" width="35.98" height="35.32" fill="#f5f8fd"/>
<rect x="799.96" y="786.72" width="35.98" height="35.32" fill="#f5f8fc"/>
<rect x="835.64" y="786.72" width="35.98" height="35.32" fill="#f5f8fd"/>
<rect x="871.32" y="786.72" width="35.98" height="35.32" fill="#f6f6f7"/>
<rect x="907" y="786.72" width="35.98" height="35.32" fill="#f8f2ec"/>
<rect x="942.68" y="786.72" width="35.98" height="35.32" fill="#eba23a"/>
<rect x="978.36" y="786.72" width="35.98" height="35.32" fill="#f6f6f8"/>
<rect x="728.6" y="821.74" width="35.98" height="35.32" fill="#f5f8fd"/>
<rect x="764.28" y="821.74" width="35.98" height="35.32" fill="#f5f8fc"/>
<rect x="799.96" y="821.74" width="35.98" height="35.32" fill="#f5f8fd"/>
<rect x="835.64" y="821.74" width="35.98" height="35.32" fill="#f5f8fd"/>
<rect x="871.32" y="821.74" width="35.98" height="35.32" fill="#f5f8fd"/>
<rect x="907" y="821.74" width="35.98" height="35.32" fill="#f9f0e7"/>
<rect x="942.68" y="821.74" width="35.98" height="35.32" fill="#f5f8fc"/>
<rect x="978.36" y="821.74" width="35.98" height="35.32" fill="#eba035"/>
</g>
<text x="746.94" y="602.1" font-size="15.8" fill="#111" text-anchor="middle">99</text>
<text x="782.62" y="602.1" font-size="15.8" fill="#111" text-anchor="middle">0</text>
<text x="818.3" y="602.1" font-size="15.8" fill="#111" text-anchor="middle">0</text>
<text x="853.98" y="602.1" font-size="15.8" fill="#111" text-anchor="middle">0</text>
<text x="889.66" y="602.1" font-size="15.8" fill="#111" text-anchor="middle">0</text>
<text x="925.34" y="602.1" font-size="15.8" fill="#111" text-anchor="middle">0</text>
<text x="961.02" y="602.1" font-size="15.8" fill="#111" text-anchor="middle">0</text>
<text x="996.7" y="602.1" font-size="15.8" fill="#111" text-anchor="middle">1</text>
<text x="746.94" y="636.95" font-size="15.8" fill="#111" text-anchor="middle">0</text>
<text x="782.62" y="636.95" font-size="15.8" fill="#111" text-anchor="middle">94</text>
<text x="818.3" y="636.95" font-size="15.8" fill="#111" text-anchor="middle">0</text>
<text x="853.98" y="636.95" font-size="15.8" fill="#111" text-anchor="middle">0</text>
<text x="889.66" y="636.95" font-size="15.8" fill="#111" text-anchor="middle">0</text>
<text x="925.34" y="636.95" font-size="15.8" fill="#111" text-anchor="middle">0</text>
<text x="961.02" y="636.95" font-size="15.8" fill="#111" text-anchor="middle">4.5</text>
<text x="996.7" y="636.95" font-size="15.8" fill="#111" text-anchor="middle">1.5</text>
<text x="746.94" y="671.8" font-size="15.8" fill="#111" text-anchor="middle">0</text>
<text x="782.62" y="671.8" font-size="15.8" fill="#111" text-anchor="middle">6</text>
<text x="818.3" y="671.8" font-size="15.8" fill="#111" text-anchor="middle">89</text>
<text x="853.98" y="671.8" font-size="15.8" fill="#111" text-anchor="middle">0.5</text>
<text x="889.66" y="671.8" font-size="15.8" fill="#111" text-anchor="middle">0.5</text>
<text x="925.34" y="671.8" font-size="15.8" fill="#111" text-anchor="middle">0</text>
<text x="961.02" y="671.8" font-size="15.8" fill="#111" text-anchor="middle">0.5</text>
<text x="996.7" y="671.8" font-size="15.8" fill="#111" text-anchor="middle">3.5</text>
<text x="746.94" y="706.65" font-size="15.8" fill="#111" text-anchor="middle">0</text>
<text x="782.62" y="706.65" font-size="15.8" fill="#111" text-anchor="middle">0</text>
<text x="818.3" y="706.65" font-size="15.8" fill="#111" text-anchor="middle">0</text>
<text x="853.98" y="706.65" font-size="15.8" fill="#111" text-anchor="middle">88.5</text>
<text x="889.66" y="706.65" font-size="15.8" fill="#111" text-anchor="middle">0</text>
<text x="925.34" y="706.65" font-size="15.8" fill="#111" text-anchor="middle">0</text>
<text x="961.02" y="706.65" font-size="15.8" fill="#111" text-anchor="middle">1.5</text>
<text x="996.7" y="706.65" font-size="15.8" fill="#111" text-anchor="middle">10</text>
<text x="746.94" y="741.5" font-size="15.8" fill="#111" text-anchor="middle">0</text>
<text x="782.62" y="741.5" font-size="15.8" fill="#111" text-anchor="middle">0</text>
<text x="818.3" y="741.5" font-size="15.8" fill="#111" text-anchor="middle">11.5</text>
<text x="853.98" y="741.5" font-size="15.8" fill="#111" text-anchor="middle">0</text>
<text x="889.66" y="741.5" font-size="15.8" fill="#111" text-anchor="middle">88.5</text>
<text x="925.34" y="741.5" font-size="15.8" fill="#111" text-anchor="middle">0</text>
<text x="961.02" y="741.5" font-size="15.8" fill="#111" text-anchor="middle">0</text>
<text x="996.7" y="741.5" font-size="15.8" fill="#111" text-anchor="middle">0</text>
<text x="746.94" y="776.35" font-size="15.8" fill="#111" text-anchor="middle">0</text>
<text x="782.62" y="776.35" font-size="15.8" fill="#111" text-anchor="middle">0</text>
<text x="818.3" y="776.35" font-size="15.8" fill="#111" text-anchor="middle">0</text>
<text x="853.98" y="776.35" font-size="15.8" fill="#111" text-anchor="middle">0.5</text>
<text x="889.66" y="776.35" font-size="15.8" fill="#111" text-anchor="middle">0</text>
<text x="925.34" y="776.35" font-size="15.8" fill="#111" text-anchor="middle">82</text>
<text x="961.02" y="776.35" font-size="15.8" fill="#111" text-anchor="middle">4.5</text>
<text x="996.7" y="776.35" font-size="15.8" fill="#111" text-anchor="middle">13</text>
<text x="746.94" y="811.2" font-size="15.8" fill="#111" text-anchor="middle">0</text>
<text x="782.62" y="811.2" font-size="15.8" fill="#111" text-anchor="middle">0</text>
<text x="818.3" y="811.2" font-size="15.8" fill="#111" text-anchor="middle">0.5</text>
<text x="853.98" y="811.2" font-size="15.8" fill="#111" text-anchor="middle">0</text>
<text x="889.66" y="811.2" font-size="15.8" fill="#111" text-anchor="middle">2.5</text>
<text x="925.34" y="811.2" font-size="15.8" fill="#111" text-anchor="middle">6.5</text>
<text x="961.02" y="811.2" font-size="15.8" fill="#111" text-anchor="middle">88.5</text>
<text x="996.7" y="811.2" font-size="15.8" fill="#111" text-anchor="middle">2</text>
<text x="746.94" y="846.05" font-size="15.8" fill="#111" text-anchor="middle">0</text>
<text x="782.62" y="846.05" font-size="15.8" fill="#111" text-anchor="middle">0.5</text>
<text x="818.3" y="846.05" font-size="15.8" fill="#111" text-anchor="middle">0</text>
<text x="853.98" y="846.05" font-size="15.8" fill="#111" text-anchor="middle">0</text>
<text x="889.66" y="846.05" font-size="15.8" fill="#111" text-anchor="middle">0</text>
<text x="925.34" y="846.05" font-size="15.8" fill="#111" text-anchor="middle">8.5</text>
<text x="961.02" y="846.05" font-size="15.8" fill="#111" text-anchor="middle">0.5</text>
<text x="996.7" y="846.05" font-size="15.8" fill="#111" text-anchor="middle">90.5</text>
<rect x="729.5" y="577.6" width="284.54" height="279.76" fill="none" stroke="#231815" stroke-width="1.3"/>
<text transform="translate(755.94,868.26) rotate(-45)" font-size="15.4" fill="#1d2088" text-anchor="end">ABA</text>
<text transform="translate(791.62,868.26) rotate(-45)" font-size="15.4" fill="#1d2088" text-anchor="end">ECO</text>
<text transform="translate(827.3,868.26) rotate(-45)" font-size="15.4" fill="#1d2088" text-anchor="end">KPN</text>
<text transform="translate(862.98,868.26) rotate(-45)" font-size="15.4" fill="#1d2088" text-anchor="end">PAE</text>
<text transform="translate(898.66,868.26) rotate(-45)" font-size="15.4" fill="#c0392b" text-anchor="end">SAU</text>
<text transform="translate(934.34,868.26) rotate(-45)" font-size="15.4" fill="#c0392b" text-anchor="end">EFM</text>
<text transform="translate(970.02,868.26) rotate(-45)" font-size="15.4" fill="#c0392b" text-anchor="end">EFS</text>
<text transform="translate(1005.7,868.26) rotate(-45)" font-size="15.4" fill="#c0392b" text-anchor="end">SCA</text>
<text x="819.2" y="904.2" font-size="14.89" fill="#231815" textLength="103.6" lengthAdjust="spacingAndGlyphs">Predicted label</text>
</svg>
</body></html>
